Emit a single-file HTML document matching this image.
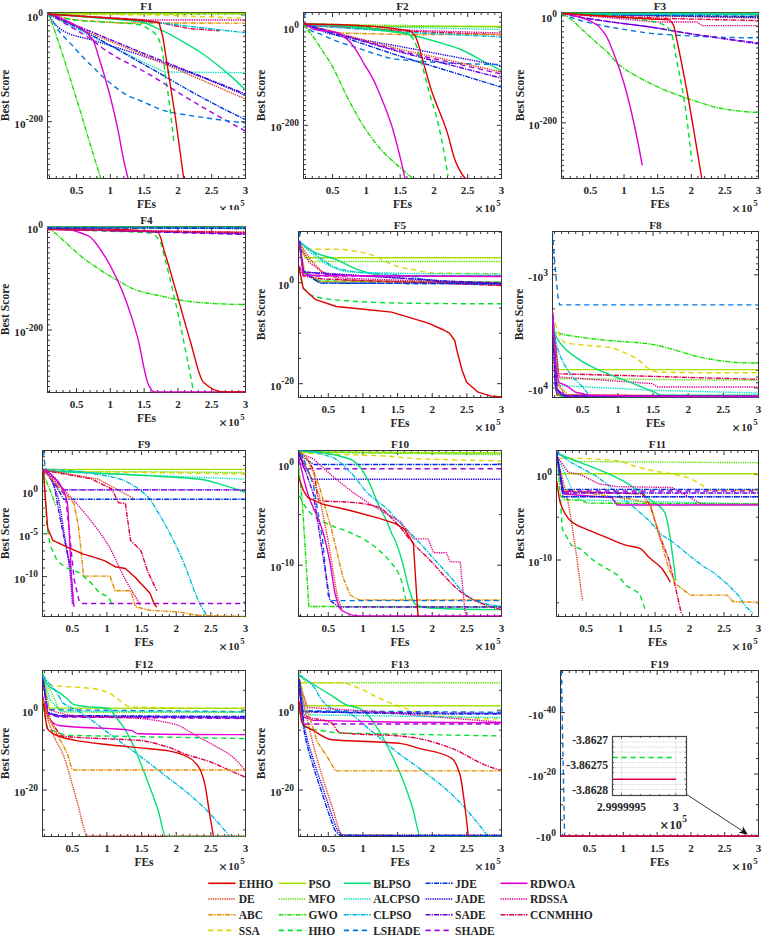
<!DOCTYPE html>
<html><head><meta charset="utf-8"><style>
html,body{margin:0;padding:0;background:#fff;overflow:hidden;width:762px;height:936px;}
svg{display:block;}
text{font-family:"Liberation Serif", serif;font-weight:bold;fill:#262626;}
</style></head><body>
<svg width="762" height="936" viewBox="0 0 762 936">
<rect width="762" height="936" fill="#fff"/>
<clipPath id="c1"><rect x="47.5" y="12.5" width="198.0" height="166.0"/></clipPath>
<path d="M49.53,178.5 v-2.5 M49.53,12.5 v2.5 M56.28,178.5 v-2.5 M56.28,12.5 v2.5 M63.04,178.5 v-2.5 M63.04,12.5 v2.5 M69.80,178.5 v-2.5 M69.80,12.5 v2.5 M76.56,178.5 v-4.5 M76.56,12.5 v4.5 M83.32,178.5 v-2.5 M83.32,12.5 v2.5 M90.07,178.5 v-2.5 M90.07,12.5 v2.5 M96.83,178.5 v-2.5 M96.83,12.5 v2.5 M103.59,178.5 v-2.5 M103.59,12.5 v2.5 M110.35,178.5 v-4.5 M110.35,12.5 v4.5 M117.10,178.5 v-2.5 M117.10,12.5 v2.5 M123.86,178.5 v-2.5 M123.86,12.5 v2.5 M130.62,178.5 v-2.5 M130.62,12.5 v2.5 M137.38,178.5 v-2.5 M137.38,12.5 v2.5 M144.13,178.5 v-4.5 M144.13,12.5 v4.5 M150.89,178.5 v-2.5 M150.89,12.5 v2.5 M157.65,178.5 v-2.5 M157.65,12.5 v2.5 M164.41,178.5 v-2.5 M164.41,12.5 v2.5 M171.17,178.5 v-2.5 M171.17,12.5 v2.5 M177.92,178.5 v-4.5 M177.92,12.5 v4.5 M184.68,178.5 v-2.5 M184.68,12.5 v2.5 M191.44,178.5 v-2.5 M191.44,12.5 v2.5 M198.20,178.5 v-2.5 M198.20,12.5 v2.5 M204.95,178.5 v-2.5 M204.95,12.5 v2.5 M211.71,178.5 v-4.5 M211.71,12.5 v4.5 M218.47,178.5 v-2.5 M218.47,12.5 v2.5 M225.23,178.5 v-2.5 M225.23,12.5 v2.5 M231.98,178.5 v-2.5 M231.98,12.5 v2.5 M238.74,178.5 v-2.5 M238.74,12.5 v2.5 M47.5,14.90 h4.5 M245.5,14.90 h-4.5 M47.5,20.24 h2.5 M245.5,20.24 h-2.5 M47.5,25.58 h2.5 M245.5,25.58 h-2.5 M47.5,30.92 h2.5 M245.5,30.92 h-2.5 M47.5,36.26 h2.5 M245.5,36.26 h-2.5 M47.5,41.60 h2.5 M245.5,41.60 h-2.5 M47.5,46.94 h2.5 M245.5,46.94 h-2.5 M47.5,52.28 h2.5 M245.5,52.28 h-2.5 M47.5,57.62 h2.5 M245.5,57.62 h-2.5 M47.5,62.96 h2.5 M245.5,62.96 h-2.5 M47.5,68.30 h2.5 M245.5,68.30 h-2.5 M47.5,73.64 h2.5 M245.5,73.64 h-2.5 M47.5,78.98 h2.5 M245.5,78.98 h-2.5 M47.5,84.32 h2.5 M245.5,84.32 h-2.5 M47.5,89.66 h2.5 M245.5,89.66 h-2.5 M47.5,95.00 h2.5 M245.5,95.00 h-2.5 M47.5,100.34 h2.5 M245.5,100.34 h-2.5 M47.5,105.68 h2.5 M245.5,105.68 h-2.5 M47.5,111.02 h2.5 M245.5,111.02 h-2.5 M47.5,116.36 h2.5 M245.5,116.36 h-2.5 M47.5,121.70 h4.5 M245.5,121.70 h-4.5 M47.5,127.04 h2.5 M245.5,127.04 h-2.5 M47.5,132.38 h2.5 M245.5,132.38 h-2.5 M47.5,137.72 h2.5 M245.5,137.72 h-2.5 M47.5,143.06 h2.5 M245.5,143.06 h-2.5 M47.5,148.40 h2.5 M245.5,148.40 h-2.5 M47.5,153.74 h2.5 M245.5,153.74 h-2.5 M47.5,159.08 h2.5 M245.5,159.08 h-2.5 M47.5,164.42 h2.5 M245.5,164.42 h-2.5 M47.5,169.76 h2.5 M245.5,169.76 h-2.5 M47.5,175.10 h2.5 M245.5,175.10 h-2.5" stroke="#333333" stroke-width="1" fill="none"/>
<rect x="47.5" y="12.5" width="198.0" height="166.0" fill="none" stroke="#333333" stroke-width="1"/>
<g clip-path="url(#c1)" fill="none" stroke-width="1.4" stroke-linejoin="round">
<path d="M47.00,13.20 L245.50,13.20" stroke="#a5e000"/>
<path d="M47.00,13.60 L245.50,14.20" stroke="#5ee000" stroke-dasharray="1.3 1.0"/>
<path d="M47.00,14.00 L160.00,15.00 L245.50,18.30" stroke="#e0d500" stroke-dasharray="5.2 3.8"/>
<path d="M47.00,14.00 L150.00,20.00 L245.50,20.00" stroke="#e0008e" stroke-dasharray="1.3 1.0"/>
<path d="M47.00,14.00 L75.00,20.00 L120.00,23.00 L245.50,23.10" stroke="#e08e00" stroke-dasharray="5 1.1 1.3 1.1"/>
<path d="M47.00,14.00 L140.00,19.80 L159.00,22.50 L190.00,28.70 L219.40,30.70" stroke="#e00047" stroke-dasharray="5 1.1 1.3 1.1"/>
<path d="M47.00,13.50 L161.50,23.10 L244.90,32.70" stroke="#00bde0" stroke-dasharray="5 1.1 1.3 1.1"/>
<path d="M47.50,14.00 C65.00,15.15 82.50,16.51 100.00,18.00 C113.33,19.13 126.67,19.62 140.00,21.80 C146.57,22.87 153.13,26.48 159.70,29.40 C169.80,33.90 179.90,39.90 190.00,45.80 C193.33,47.75 196.67,49.75 200.00,52.00 C209.23,58.24 218.47,65.54 227.70,73.40 C233.63,78.45 239.57,84.10 245.50,90.00" stroke="#00e076"/>
<path d="M47.00,14.00 C56.33,16.39 65.67,18.90 75.00,20.00 C96.67,22.54 118.33,21.36 140.00,24.80 C142.83,25.25 145.67,27.30 148.50,29.00 C151.13,30.58 153.77,31.93 156.40,35.00 C157.50,36.28 158.60,38.71 159.70,41.50 C160.63,43.87 161.57,46.70 162.50,51.30 C163.57,56.56 164.63,71.30 165.70,78.90 C166.37,83.65 167.03,86.67 167.70,91.30 C169.80,105.88 171.90,122.98 174.00,144.00" stroke="#00e02f" stroke-dasharray="5.2 3.8"/>
<path d="M47.00,14.00 L145.00,63.00 L164.30,72.00 L245.50,72.70" stroke="#00e0bd" stroke-dasharray="1.3 1.0"/>
<path d="M47.00,13.40 L145.00,54.00 L245.50,94.00" stroke="#5e00e0" stroke-dasharray="5 1.1 1.3 1.1"/>
<path d="M47.80,13.40 C51.00,18.82 54.20,23.75 57.40,26.50 C61.53,30.05 65.67,32.52 69.80,34.10 C76.70,36.75 83.60,37.57 90.50,39.60 C142.17,54.82 193.83,72.54 245.50,95.50" stroke="#1800e0" stroke-dasharray="1.3 1.0"/>
<path d="M47.00,13.40 L90.00,33.00 L145.00,55.50 L245.50,99.00" stroke="#e03a1e" stroke-dasharray="1.3 1.0"/>
<path d="M47.80,13.40 C56.07,17.18 64.33,21.03 72.60,25.20 C98.40,38.22 124.20,53.39 150.00,67.90 C165.80,76.78 181.60,86.45 197.40,95.00 C213.43,103.68 229.47,111.94 245.50,119.70" stroke="#002fe0" stroke-dasharray="5 1.1 1.3 1.1"/>
<path d="M47.80,13.40 C53.77,16.80 59.73,20.26 65.70,23.80 C73.97,28.71 82.23,33.30 90.50,38.90 C96.00,42.63 101.50,47.74 107.00,51.30 C121.33,60.59 135.67,66.40 150.00,74.80 C160.73,81.09 171.47,88.56 182.20,95.00 C203.30,107.66 224.40,119.82 245.50,131.00" stroke="#a500e0" stroke-dasharray="5.2 3.8"/>
<path d="M47.50,14.00 C48.00,14.46 48.50,14.92 49.00,15.50 C52.27,19.27 55.53,26.47 58.80,30.70 C63.40,36.66 68.00,40.73 72.60,45.80 C75.07,48.52 77.53,51.38 80.00,54.00 C85.33,59.66 90.67,65.03 96.00,70.10 C101.33,75.17 106.67,80.31 112.00,84.50 C117.37,88.71 122.73,93.00 128.10,95.70 C132.07,97.70 136.03,98.90 140.00,100.50 C149.10,104.17 158.20,109.32 167.30,111.50 C177.17,113.86 187.03,115.01 196.90,116.50 C213.10,118.94 229.30,121.19 245.50,123.00" stroke="#0076e0" stroke-dasharray="5.2 3.8"/>
<path d="M47.50,13.00 C48.50,15.05 49.50,17.17 50.50,19.60 C54.17,28.52 57.83,40.26 61.50,51.30 C66.10,65.16 70.70,80.31 75.30,95.00 C76.87,100.00 78.43,104.98 80.00,110.10 C83.20,120.56 86.40,131.66 89.60,142.20 C93.33,154.49 97.07,166.61 100.80,178.50" stroke="#18e000" stroke-dasharray="5 1.1 1.3 1.1"/>
<path d="M47.80,13.40 C53.77,14.92 59.73,17.37 65.70,20.30 C74.73,24.73 83.77,27.69 92.80,39.60 C94.93,42.41 97.07,52.13 99.20,58.80 C101.33,65.47 103.47,72.25 105.60,79.70 C107.73,87.15 109.87,95.02 112.00,103.70 C114.17,112.51 116.33,122.04 118.50,132.60 C120.10,140.39 121.70,150.65 123.30,158.20 C124.90,165.75 126.50,172.62 128.10,178.50" stroke="#e000d5"/>
<path d="M47.00,14.00 L140.00,20.20 L159.00,22.50 L163.00,37.60 L171.90,95.00 L175.50,118.00 L183.70,178.50" stroke="#e00000"/>
</g>
<text x="76.56" y="194.30" font-size="11" text-anchor="middle" >0.5</text>
<text x="110.35" y="194.30" font-size="11" text-anchor="middle" >1</text>
<text x="144.13" y="194.30" font-size="11" text-anchor="middle" >1.5</text>
<text x="177.92" y="194.30" font-size="11" text-anchor="middle" >2</text>
<text x="211.71" y="194.30" font-size="11" text-anchor="middle" >2.5</text>
<text x="245.50" y="194.30" font-size="11" text-anchor="middle" >3</text>
<text x="146.50" y="208.30" font-size="11.5" text-anchor="middle" >FEs</text>
<clipPath id="c2"><rect x="205.5" y="178.5" width="60" height="31.599999999999994"/></clipPath>
<g clip-path="url(#c2)"><text x="223.10" y="213.70" font-size="15" font-weight="normal" text-anchor="middle">&#215;</text><text x="228.30" y="211.90" font-size="11">10</text><text x="240.30" y="206.30" font-size="8.8">5</text></g>
<text x="146.50" y="9.70" font-size="11.2" text-anchor="middle" >F1</text>
<text x="5.2" y="95.5" font-size="11.6" text-anchor="middle" transform="rotate(-90 5.2 95.5)" dy="4">Best Score</text>
<text x="43.00" y="20.90" font-size="11.3" text-anchor="end">10<tspan font-size="9.5" dy="-5.3">0</tspan></text>
<text x="43.00" y="127.70" font-size="11.3" text-anchor="end">10<tspan font-size="9.5" dy="-5.3">-200</tspan></text>
<clipPath id="c3"><rect x="303.5" y="12.5" width="198.0" height="166.0"/></clipPath>
<path d="M305.53,178.5 v-2.5 M305.53,12.5 v2.5 M312.28,178.5 v-2.5 M312.28,12.5 v2.5 M319.04,178.5 v-2.5 M319.04,12.5 v2.5 M325.80,178.5 v-2.5 M325.80,12.5 v2.5 M332.56,178.5 v-4.5 M332.56,12.5 v4.5 M339.32,178.5 v-2.5 M339.32,12.5 v2.5 M346.07,178.5 v-2.5 M346.07,12.5 v2.5 M352.83,178.5 v-2.5 M352.83,12.5 v2.5 M359.59,178.5 v-2.5 M359.59,12.5 v2.5 M366.35,178.5 v-4.5 M366.35,12.5 v4.5 M373.10,178.5 v-2.5 M373.10,12.5 v2.5 M379.86,178.5 v-2.5 M379.86,12.5 v2.5 M386.62,178.5 v-2.5 M386.62,12.5 v2.5 M393.38,178.5 v-2.5 M393.38,12.5 v2.5 M400.13,178.5 v-4.5 M400.13,12.5 v4.5 M406.89,178.5 v-2.5 M406.89,12.5 v2.5 M413.65,178.5 v-2.5 M413.65,12.5 v2.5 M420.41,178.5 v-2.5 M420.41,12.5 v2.5 M427.17,178.5 v-2.5 M427.17,12.5 v2.5 M433.92,178.5 v-4.5 M433.92,12.5 v4.5 M440.68,178.5 v-2.5 M440.68,12.5 v2.5 M447.44,178.5 v-2.5 M447.44,12.5 v2.5 M454.20,178.5 v-2.5 M454.20,12.5 v2.5 M460.95,178.5 v-2.5 M460.95,12.5 v2.5 M467.71,178.5 v-4.5 M467.71,12.5 v4.5 M474.47,178.5 v-2.5 M474.47,12.5 v2.5 M481.23,178.5 v-2.5 M481.23,12.5 v2.5 M487.98,178.5 v-2.5 M487.98,12.5 v2.5 M494.74,178.5 v-2.5 M494.74,12.5 v2.5 M303.5,17.17 h2.5 M501.5,17.17 h-2.5 M303.5,22.09 h2.5 M501.5,22.09 h-2.5 M303.5,27.00 h4.5 M501.5,27.00 h-4.5 M303.5,31.91 h2.5 M501.5,31.91 h-2.5 M303.5,36.83 h2.5 M501.5,36.83 h-2.5 M303.5,41.75 h2.5 M501.5,41.75 h-2.5 M303.5,46.66 h2.5 M501.5,46.66 h-2.5 M303.5,51.58 h2.5 M501.5,51.58 h-2.5 M303.5,56.49 h2.5 M501.5,56.49 h-2.5 M303.5,61.41 h2.5 M501.5,61.41 h-2.5 M303.5,66.32 h2.5 M501.5,66.32 h-2.5 M303.5,71.23 h2.5 M501.5,71.23 h-2.5 M303.5,76.15 h2.5 M501.5,76.15 h-2.5 M303.5,81.06 h2.5 M501.5,81.06 h-2.5 M303.5,85.98 h2.5 M501.5,85.98 h-2.5 M303.5,90.90 h2.5 M501.5,90.90 h-2.5 M303.5,95.81 h2.5 M501.5,95.81 h-2.5 M303.5,100.72 h2.5 M501.5,100.72 h-2.5 M303.5,105.64 h2.5 M501.5,105.64 h-2.5 M303.5,110.56 h2.5 M501.5,110.56 h-2.5 M303.5,115.47 h2.5 M501.5,115.47 h-2.5 M303.5,120.39 h2.5 M501.5,120.39 h-2.5 M303.5,125.30 h4.5 M501.5,125.30 h-4.5 M303.5,130.22 h2.5 M501.5,130.22 h-2.5 M303.5,135.13 h2.5 M501.5,135.13 h-2.5 M303.5,140.05 h2.5 M501.5,140.05 h-2.5 M303.5,144.96 h2.5 M501.5,144.96 h-2.5 M303.5,149.88 h2.5 M501.5,149.88 h-2.5 M303.5,154.79 h2.5 M501.5,154.79 h-2.5 M303.5,159.71 h2.5 M501.5,159.71 h-2.5 M303.5,164.62 h2.5 M501.5,164.62 h-2.5 M303.5,169.53 h2.5 M501.5,169.53 h-2.5 M303.5,174.45 h2.5 M501.5,174.45 h-2.5" stroke="#333333" stroke-width="1" fill="none"/>
<rect x="303.5" y="12.5" width="198.0" height="166.0" fill="none" stroke="#333333" stroke-width="1"/>
<g clip-path="url(#c3)" fill="none" stroke-width="1.4" stroke-linejoin="round">
<path d="M303.50,24.00 L320.00,26.30 L501.30,26.50" stroke="#a5e000"/>
<path d="M303.50,24.00 L501.30,27.00" stroke="#5ee000" stroke-dasharray="1.3 1.0"/>
<path d="M303.50,25.00 L501.30,29.60" stroke="#00e0bd" stroke-dasharray="1.3 1.0"/>
<path d="M303.50,25.00 L400.00,30.00 L501.30,33.00" stroke="#e0008e" stroke-dasharray="1.3 1.0"/>
<path d="M303.50,25.00 L400.00,31.00 L501.30,34.80" stroke="#e00047" stroke-dasharray="5 1.1 1.3 1.1"/>
<path d="M303.50,25.00 L340.00,33.00 L400.00,34.50 L501.30,34.50" stroke="#e08e00" stroke-dasharray="5 1.1 1.3 1.1"/>
<path d="M303.50,25.00 L400.00,32.00 L501.30,36.90" stroke="#00bde0" stroke-dasharray="5 1.1 1.3 1.1"/>
<path d="M303.50,24.00 C335.67,24.00 367.83,28.20 400.00,32.70 C405.50,33.47 411.00,34.89 416.50,36.20 C424.77,38.17 433.03,40.59 441.30,43.10 C448.20,45.20 455.10,47.17 462.00,50.00 C468.90,52.83 475.80,57.39 482.70,61.00 C488.90,64.25 495.10,67.44 501.30,70.60" stroke="#00e076"/>
<path d="M303.50,24.00 L330.00,34.00 L400.00,46.50 L501.30,65.80" stroke="#1800e0" stroke-dasharray="1.3 1.0"/>
<path d="M304.00,13.00 C304.33,16.86 304.67,23.46 305.00,24.00 C310.67,33.25 316.33,32.05 322.00,34.80 C333.03,40.15 344.07,43.66 355.10,47.20 C370.07,52.00 385.03,58.27 400.00,59.60 C433.77,62.60 467.53,64.40 501.30,64.40" stroke="#0076e0" stroke-dasharray="5.2 3.8"/>
<path d="M303.50,24.00 L400.00,49.30 L501.30,72.00" stroke="#e03a1e" stroke-dasharray="1.3 1.0"/>
<path d="M303.50,24.00 L400.00,51.00 L501.30,74.00" stroke="#a500e0" stroke-dasharray="5.2 3.8"/>
<path d="M303.50,24.00 L400.00,52.00 L501.30,78.20" stroke="#5e00e0" stroke-dasharray="5 1.1 1.3 1.1"/>
<path d="M303.50,24.00 L400.00,56.20 L501.30,87.20" stroke="#002fe0" stroke-dasharray="5 1.1 1.3 1.1"/>
<path d="M303.50,24.00 C335.67,24.00 367.83,26.52 400.00,32.00 C404.13,32.70 408.27,34.27 412.40,37.60 C415.60,40.18 418.80,54.59 422.00,65.10 C424.20,72.33 426.40,81.95 428.60,90.00 C431.90,102.07 435.20,110.91 438.50,125.00 C441.67,138.52 444.83,156.16 448.00,176.00" stroke="#00e02f" stroke-dasharray="5.2 3.8"/>
<path d="M303.50,22.00 C304.17,23.62 304.83,25.32 305.50,26.50 C308.27,31.40 311.03,33.67 313.80,37.60 C316.53,41.48 319.27,45.81 322.00,50.00 C325.23,54.96 328.47,59.42 331.70,65.10 C334.47,69.96 337.23,75.96 340.00,81.70 C342.07,85.99 344.13,90.92 346.20,95.00 C352.33,107.11 358.47,118.38 364.60,127.70 C369.97,135.86 375.33,143.23 380.70,149.20 C387.87,157.17 395.03,163.11 402.20,169.40 C405.80,172.56 409.40,175.53 413.00,178.40" stroke="#18e000" stroke-dasharray="5 1.1 1.3 1.1"/>
<path d="M303.90,22.40 C307.20,25.24 310.50,28.43 313.80,29.30 C321.60,31.36 329.40,30.67 337.20,32.70 C340.87,33.66 344.53,37.01 348.20,40.30 C350.50,42.36 352.80,45.39 355.10,48.60 C358.33,53.11 361.57,59.63 364.80,65.10 C367.53,69.72 370.27,73.61 373.00,78.90 C374.67,82.13 376.33,86.06 378.00,90.00 C382.50,100.64 387.00,111.07 391.50,125.00 C394.17,133.25 396.83,143.91 399.50,154.60 C401.33,161.95 403.17,170.00 405.00,178.40" stroke="#e000d5"/>
<path d="M303.50,24.00 C338.87,24.00 374.23,25.00 409.60,30.70 C411.47,31.00 413.33,33.49 415.20,36.20 C418.17,40.50 421.13,55.15 424.10,65.10 C426.50,73.15 428.90,82.70 431.30,90.00 C436.40,105.52 441.50,115.03 446.60,130.40 C449.73,139.84 452.87,155.58 456.00,162.60 C459.17,169.70 462.33,175.94 465.50,178.40" stroke="#e00000"/>
</g>
<text x="332.56" y="194.30" font-size="11" text-anchor="middle" >0.5</text>
<text x="366.35" y="194.30" font-size="11" text-anchor="middle" >1</text>
<text x="400.13" y="194.30" font-size="11" text-anchor="middle" >1.5</text>
<text x="433.92" y="194.30" font-size="11" text-anchor="middle" >2</text>
<text x="467.71" y="194.30" font-size="11" text-anchor="middle" >2.5</text>
<text x="501.50" y="194.30" font-size="11" text-anchor="middle" >3</text>
<text x="402.50" y="208.30" font-size="11.5" text-anchor="middle" >FEs</text>
<g><text x="479.10" y="213.70" font-size="15" font-weight="normal" text-anchor="middle">&#215;</text><text x="484.30" y="211.90" font-size="11">10</text><text x="496.30" y="206.30" font-size="8.8">5</text></g>
<text x="402.50" y="9.70" font-size="11.2" text-anchor="middle" >F2</text>
<text x="260.8" y="95.5" font-size="11.6" text-anchor="middle" transform="rotate(-90 260.8 95.5)" dy="4">Best Score</text>
<text x="299.00" y="33.00" font-size="11.3" text-anchor="end">10<tspan font-size="9.5" dy="-5.3">0</tspan></text>
<text x="299.00" y="131.30" font-size="11.3" text-anchor="end">10<tspan font-size="9.5" dy="-5.3">-200</tspan></text>
<clipPath id="c4"><rect x="561.5" y="12.5" width="197.0" height="166.0"/></clipPath>
<path d="M563.52,178.5 v-2.5 M563.52,12.5 v2.5 M570.24,178.5 v-2.5 M570.24,12.5 v2.5 M576.96,178.5 v-2.5 M576.96,12.5 v2.5 M583.69,178.5 v-2.5 M583.69,12.5 v2.5 M590.41,178.5 v-4.5 M590.41,12.5 v4.5 M597.13,178.5 v-2.5 M597.13,12.5 v2.5 M603.86,178.5 v-2.5 M603.86,12.5 v2.5 M610.58,178.5 v-2.5 M610.58,12.5 v2.5 M617.31,178.5 v-2.5 M617.31,12.5 v2.5 M624.03,178.5 v-4.5 M624.03,12.5 v4.5 M630.75,178.5 v-2.5 M630.75,12.5 v2.5 M637.48,178.5 v-2.5 M637.48,12.5 v2.5 M644.20,178.5 v-2.5 M644.20,12.5 v2.5 M650.92,178.5 v-2.5 M650.92,12.5 v2.5 M657.65,178.5 v-4.5 M657.65,12.5 v4.5 M664.37,178.5 v-2.5 M664.37,12.5 v2.5 M671.09,178.5 v-2.5 M671.09,12.5 v2.5 M677.82,178.5 v-2.5 M677.82,12.5 v2.5 M684.54,178.5 v-2.5 M684.54,12.5 v2.5 M691.26,178.5 v-4.5 M691.26,12.5 v4.5 M697.99,178.5 v-2.5 M697.99,12.5 v2.5 M704.71,178.5 v-2.5 M704.71,12.5 v2.5 M711.44,178.5 v-2.5 M711.44,12.5 v2.5 M718.16,178.5 v-2.5 M718.16,12.5 v2.5 M724.88,178.5 v-4.5 M724.88,12.5 v4.5 M731.61,178.5 v-2.5 M731.61,12.5 v2.5 M738.33,178.5 v-2.5 M738.33,12.5 v2.5 M745.05,178.5 v-2.5 M745.05,12.5 v2.5 M751.78,178.5 v-2.5 M751.78,12.5 v2.5 M561.5,15.80 h4.5 M758.5,15.80 h-4.5 M561.5,21.15 h2.5 M758.5,21.15 h-2.5 M561.5,26.50 h2.5 M758.5,26.50 h-2.5 M561.5,31.85 h2.5 M758.5,31.85 h-2.5 M561.5,37.20 h2.5 M758.5,37.20 h-2.5 M561.5,42.55 h2.5 M758.5,42.55 h-2.5 M561.5,47.90 h2.5 M758.5,47.90 h-2.5 M561.5,53.25 h2.5 M758.5,53.25 h-2.5 M561.5,58.60 h2.5 M758.5,58.60 h-2.5 M561.5,63.95 h2.5 M758.5,63.95 h-2.5 M561.5,69.30 h2.5 M758.5,69.30 h-2.5 M561.5,74.65 h2.5 M758.5,74.65 h-2.5 M561.5,80.00 h2.5 M758.5,80.00 h-2.5 M561.5,85.35 h2.5 M758.5,85.35 h-2.5 M561.5,90.70 h2.5 M758.5,90.70 h-2.5 M561.5,96.05 h2.5 M758.5,96.05 h-2.5 M561.5,101.40 h2.5 M758.5,101.40 h-2.5 M561.5,106.75 h2.5 M758.5,106.75 h-2.5 M561.5,112.10 h2.5 M758.5,112.10 h-2.5 M561.5,117.45 h2.5 M758.5,117.45 h-2.5 M561.5,122.80 h4.5 M758.5,122.80 h-4.5 M561.5,128.15 h2.5 M758.5,128.15 h-2.5 M561.5,133.50 h2.5 M758.5,133.50 h-2.5 M561.5,138.85 h2.5 M758.5,138.85 h-2.5 M561.5,144.20 h2.5 M758.5,144.20 h-2.5 M561.5,149.55 h2.5 M758.5,149.55 h-2.5 M561.5,154.90 h2.5 M758.5,154.90 h-2.5 M561.5,160.25 h2.5 M758.5,160.25 h-2.5 M561.5,165.60 h2.5 M758.5,165.60 h-2.5 M561.5,170.95 h2.5 M758.5,170.95 h-2.5 M561.5,176.30 h2.5 M758.5,176.30 h-2.5" stroke="#333333" stroke-width="1" fill="none"/>
<rect x="561.5" y="12.5" width="197.0" height="166.0" fill="none" stroke="#333333" stroke-width="1"/>
<g clip-path="url(#c4)" fill="none" stroke-width="1.4" stroke-linejoin="round">
<path d="M561.50,14.00 L758.50,18.00" stroke="#e03a1e" stroke-dasharray="1.3 1.0"/>
<path d="M561.50,14.00 L758.50,17.00" stroke="#e08e00" stroke-dasharray="5 1.1 1.3 1.1"/>
<path d="M561.50,14.00 L758.50,16.00" stroke="#e0d500" stroke-dasharray="5.2 3.8"/>
<path d="M561.30,13.20 L655.00,22.00 L697.00,22.00 L702.00,25.60 L758.50,25.60" stroke="#e0008e" stroke-dasharray="1.3 1.0"/>
<path d="M561.50,14.00 L669.00,18.50 L758.50,20.60" stroke="#e00047" stroke-dasharray="5 1.1 1.3 1.1"/>
<path d="M561.50,14.00 L758.50,17.50" stroke="#1800e0" stroke-dasharray="1.3 1.0"/>
<path d="M561.50,14.00 L758.50,16.50" stroke="#002fe0" stroke-dasharray="5 1.1 1.3 1.1"/>
<path d="M561.50,13.20 L758.50,13.20" stroke="#a5e000"/>
<path d="M561.50,13.50 L758.50,13.80" stroke="#5ee000" stroke-dasharray="1.3 1.0"/>
<path d="M561.50,13.50 L758.50,14.20" stroke="#00e076"/>
<path d="M561.50,13.50 L758.50,13.60" stroke="#00e0bd" stroke-dasharray="1.3 1.0"/>
<path d="M561.50,14.00 L758.50,14.80" stroke="#00bde0" stroke-dasharray="5 1.1 1.3 1.1"/>
<path d="M561.30,13.20 C566.10,15.40 570.90,17.49 575.70,19.00 C583.97,21.60 592.23,23.48 600.50,25.20 C608.30,26.83 616.10,28.20 623.90,29.40 C635.93,31.26 647.97,33.44 660.00,34.20 C692.83,36.26 725.67,37.80 758.50,37.80" stroke="#0076e0" stroke-dasharray="5.2 3.8"/>
<path d="M561.30,13.20 C568.40,14.83 575.50,16.35 582.60,17.60 C591.77,19.22 600.93,20.50 610.10,21.80 C625.07,23.93 640.03,25.43 655.00,27.70 C664.37,29.12 673.73,31.09 683.10,32.60 C692.47,34.11 701.83,35.51 711.20,36.80 C726.97,38.98 742.73,41.02 758.50,42.80" stroke="#a500e0" stroke-dasharray="5.2 3.8"/>
<path d="M561.30,13.20 C568.40,14.83 575.50,16.35 582.60,17.60 C591.77,19.22 600.93,20.50 610.10,21.80 C625.07,23.93 640.03,25.43 655.00,27.70 C664.37,29.12 673.73,31.09 683.10,32.60 C692.47,34.11 701.83,35.41 711.20,36.80 C726.97,39.15 742.73,41.48 758.50,43.80" stroke="#5e00e0" stroke-dasharray="5 1.1 1.3 1.1"/>
<path d="M561.30,13.20 C592.53,13.20 623.77,16.39 655.00,22.00 C658.73,22.67 662.47,23.87 666.20,26.30 C668.10,27.54 670.00,30.18 671.90,34.70 C673.30,38.03 674.70,49.74 676.10,57.20 C678.73,71.23 681.37,82.25 684.00,99.00 C686.63,115.75 689.27,137.47 691.90,162.00" stroke="#00e02f" stroke-dasharray="5.2 3.8"/>
<path d="M561.50,13.20 C563.93,14.42 566.37,15.88 568.80,17.60 C573.40,20.85 578.00,25.85 582.60,30.00 C587.17,34.12 591.73,38.27 596.30,42.40 C600.90,46.57 605.50,50.10 610.10,54.90 C612.40,57.30 614.70,61.01 617.00,63.10 C621.60,67.28 626.20,70.01 630.80,72.80 C640.53,78.71 650.27,83.63 660.00,87.90 C668.43,91.60 676.87,94.79 685.30,97.60 C698.53,102.01 711.77,107.18 725.00,109.10 C736.17,110.72 747.33,112.28 758.50,112.40" stroke="#18e000" stroke-dasharray="5 1.1 1.3 1.1"/>
<path d="M561.50,13.00 C569.90,13.81 578.30,16.64 586.70,19.70 C589.90,20.86 593.10,22.27 596.30,24.50 C599.53,26.75 602.77,30.60 606.00,35.60 C608.77,39.88 611.53,47.89 614.30,54.90 C616.13,59.54 617.97,64.50 619.80,70.00 C622.10,76.90 624.40,84.27 626.70,93.00 C631.90,112.75 637.10,136.51 642.30,165.30" stroke="#e000d5"/>
<path d="M561.30,13.20 C592.53,15.58 623.77,17.50 655.00,19.20 C659.67,19.45 664.33,19.37 669.00,19.90 C670.43,20.06 671.87,22.27 673.30,24.90 C674.70,27.47 676.10,36.61 677.50,43.10 C680.77,58.23 684.03,75.23 687.30,93.00 C689.93,107.33 692.57,123.35 695.20,138.90 C697.40,151.89 699.60,165.11 701.80,178.50" stroke="#e00000"/>
</g>
<text x="590.41" y="194.30" font-size="11" text-anchor="middle" >0.5</text>
<text x="624.03" y="194.30" font-size="11" text-anchor="middle" >1</text>
<text x="657.65" y="194.30" font-size="11" text-anchor="middle" >1.5</text>
<text x="691.26" y="194.30" font-size="11" text-anchor="middle" >2</text>
<text x="724.88" y="194.30" font-size="11" text-anchor="middle" >2.5</text>
<text x="758.50" y="194.30" font-size="11" text-anchor="middle" >3</text>
<text x="660.00" y="208.30" font-size="11.5" text-anchor="middle" >FEs</text>
<g><text x="736.10" y="213.70" font-size="15" font-weight="normal" text-anchor="middle">&#215;</text><text x="741.30" y="211.90" font-size="11">10</text><text x="753.30" y="206.30" font-size="8.8">5</text></g>
<text x="660.00" y="9.70" font-size="11.2" text-anchor="middle" >F3</text>
<text x="519.5" y="95.5" font-size="11.6" text-anchor="middle" transform="rotate(-90 519.5 95.5)" dy="4">Best Score</text>
<text x="557.00" y="21.80" font-size="11.3" text-anchor="end">10<tspan font-size="9.5" dy="-5.3">0</tspan></text>
<text x="557.00" y="128.80" font-size="11.3" text-anchor="end">10<tspan font-size="9.5" dy="-5.3">-200</tspan></text>
<clipPath id="c5"><rect x="47.5" y="226.5" width="198.0" height="166.0"/></clipPath>
<path d="M49.53,392.5 v-2.5 M49.53,226.5 v2.5 M56.28,392.5 v-2.5 M56.28,226.5 v2.5 M63.04,392.5 v-2.5 M63.04,226.5 v2.5 M69.80,392.5 v-2.5 M69.80,226.5 v2.5 M76.56,392.5 v-4.5 M76.56,226.5 v4.5 M83.32,392.5 v-2.5 M83.32,226.5 v2.5 M90.07,392.5 v-2.5 M90.07,226.5 v2.5 M96.83,392.5 v-2.5 M96.83,226.5 v2.5 M103.59,392.5 v-2.5 M103.59,226.5 v2.5 M110.35,392.5 v-4.5 M110.35,226.5 v4.5 M117.10,392.5 v-2.5 M117.10,226.5 v2.5 M123.86,392.5 v-2.5 M123.86,226.5 v2.5 M130.62,392.5 v-2.5 M130.62,226.5 v2.5 M137.38,392.5 v-2.5 M137.38,226.5 v2.5 M144.13,392.5 v-4.5 M144.13,226.5 v4.5 M150.89,392.5 v-2.5 M150.89,226.5 v2.5 M157.65,392.5 v-2.5 M157.65,226.5 v2.5 M164.41,392.5 v-2.5 M164.41,226.5 v2.5 M171.17,392.5 v-2.5 M171.17,226.5 v2.5 M177.92,392.5 v-4.5 M177.92,226.5 v4.5 M184.68,392.5 v-2.5 M184.68,226.5 v2.5 M191.44,392.5 v-2.5 M191.44,226.5 v2.5 M198.20,392.5 v-2.5 M198.20,226.5 v2.5 M204.95,392.5 v-2.5 M204.95,226.5 v2.5 M211.71,392.5 v-4.5 M211.71,226.5 v4.5 M218.47,392.5 v-2.5 M218.47,226.5 v2.5 M225.23,392.5 v-2.5 M225.23,226.5 v2.5 M231.98,392.5 v-2.5 M231.98,226.5 v2.5 M238.74,392.5 v-2.5 M238.74,226.5 v2.5 M47.5,227.20 h4.5 M245.5,227.20 h-4.5 M47.5,232.34 h2.5 M245.5,232.34 h-2.5 M47.5,237.48 h2.5 M245.5,237.48 h-2.5 M47.5,242.62 h2.5 M245.5,242.62 h-2.5 M47.5,247.76 h2.5 M245.5,247.76 h-2.5 M47.5,252.90 h2.5 M245.5,252.90 h-2.5 M47.5,258.04 h2.5 M245.5,258.04 h-2.5 M47.5,263.18 h2.5 M245.5,263.18 h-2.5 M47.5,268.32 h2.5 M245.5,268.32 h-2.5 M47.5,273.46 h2.5 M245.5,273.46 h-2.5 M47.5,278.60 h2.5 M245.5,278.60 h-2.5 M47.5,283.74 h2.5 M245.5,283.74 h-2.5 M47.5,288.88 h2.5 M245.5,288.88 h-2.5 M47.5,294.02 h2.5 M245.5,294.02 h-2.5 M47.5,299.16 h2.5 M245.5,299.16 h-2.5 M47.5,304.30 h2.5 M245.5,304.30 h-2.5 M47.5,309.44 h2.5 M245.5,309.44 h-2.5 M47.5,314.58 h2.5 M245.5,314.58 h-2.5 M47.5,319.72 h2.5 M245.5,319.72 h-2.5 M47.5,324.86 h2.5 M245.5,324.86 h-2.5 M47.5,330.00 h4.5 M245.5,330.00 h-4.5 M47.5,335.14 h2.5 M245.5,335.14 h-2.5 M47.5,340.28 h2.5 M245.5,340.28 h-2.5 M47.5,345.42 h2.5 M245.5,345.42 h-2.5 M47.5,350.56 h2.5 M245.5,350.56 h-2.5 M47.5,355.70 h2.5 M245.5,355.70 h-2.5 M47.5,360.84 h2.5 M245.5,360.84 h-2.5 M47.5,365.98 h2.5 M245.5,365.98 h-2.5 M47.5,371.12 h2.5 M245.5,371.12 h-2.5 M47.5,376.26 h2.5 M245.5,376.26 h-2.5 M47.5,381.40 h2.5 M245.5,381.40 h-2.5 M47.5,386.54 h2.5 M245.5,386.54 h-2.5 M47.5,391.68 h2.5 M245.5,391.68 h-2.5" stroke="#333333" stroke-width="1" fill="none"/>
<rect x="47.5" y="226.5" width="198.0" height="166.0" fill="none" stroke="#333333" stroke-width="1"/>
<g clip-path="url(#c5)" fill="none" stroke-width="1.4" stroke-linejoin="round">
<path d="M47.80,226.60 C53.03,231.20 58.27,235.84 63.50,240.50 C69.67,246.00 75.83,252.24 82.00,257.10 C88.17,261.96 94.33,266.08 100.50,270.10 C106.03,273.70 111.57,277.14 117.10,280.20 C123.87,283.94 130.63,288.19 137.40,290.40 C146.60,293.41 155.80,294.84 165.00,296.90 C170.13,298.05 175.27,299.47 180.40,300.20 C191.37,301.77 202.33,302.98 213.30,303.50 C224.03,304.01 234.77,304.50 245.50,304.50" stroke="#18e000" stroke-dasharray="5 1.1 1.3 1.1"/>
<path d="M47.60,229.00 C65.07,229.64 82.53,230.30 100.00,231.00 C116.80,231.67 133.60,231.42 150.40,233.10 C153.47,233.41 156.53,236.28 159.60,240.50 C161.40,242.98 163.20,252.34 165.00,259.00 C167.97,269.97 170.93,282.34 173.90,295.30 C178.27,314.38 182.63,335.74 187.00,357.60 C189.20,368.61 191.40,380.25 193.60,392.10" stroke="#00e02f" stroke-dasharray="5.2 3.8"/>
<path d="M47.80,226.60 C61.33,226.60 74.87,230.09 88.40,235.90 C93.67,238.16 98.93,247.45 104.20,255.30 C108.50,261.71 112.80,270.20 117.10,279.30 C120.17,285.79 123.23,293.14 126.30,301.50 C130.00,311.59 133.70,323.07 137.40,336.60 C141.10,350.13 144.80,377.70 148.50,384.70 C150.37,388.23 152.23,392.00 154.10,392.00 C184.57,392.00 215.03,392.00 245.50,392.00" stroke="#e000d5"/>
<path d="M47.60,228.00 C84.33,228.00 121.07,228.33 157.80,232.20 C160.20,232.45 162.60,245.84 165.00,253.40 C169.07,266.21 173.13,281.20 177.20,295.30 C181.57,310.45 185.93,326.76 190.30,341.20 C194.67,355.64 199.03,378.26 203.40,382.20 C209.97,388.13 216.53,392.00 223.10,392.00 C230.57,392.00 238.03,392.00 245.50,392.00" stroke="#e00000"/>
<path d="M47.30,229.00 L245.30,234.50" stroke="#a500e0" stroke-dasharray="5.2 3.8"/>
<path d="M47.30,229.00 L245.30,234.00" stroke="#5e00e0" stroke-dasharray="5 1.1 1.3 1.1"/>
<path d="M47.30,229.00 L245.30,233.50" stroke="#1800e0" stroke-dasharray="1.3 1.0"/>
<path d="M47.30,229.50 L245.30,232.00" stroke="#e03a1e" stroke-dasharray="1.3 1.0"/>
<path d="M47.30,229.50 L150.00,231.00 L245.30,233.00" stroke="#e0008e" stroke-dasharray="1.3 1.0"/>
<path d="M47.30,229.50 L245.30,232.50" stroke="#e00047" stroke-dasharray="5 1.1 1.3 1.1"/>
<path d="M47.30,227.00 L245.30,227.00" stroke="#a5e000"/>
<path d="M47.30,227.00 L245.30,227.20" stroke="#5ee000" stroke-dasharray="1.3 1.0"/>
<path d="M47.30,227.00 L245.30,227.50" stroke="#00e076"/>
<path d="M47.30,227.00 L245.30,227.80" stroke="#00e0bd" stroke-dasharray="1.3 1.0"/>
<path d="M47.30,227.00 L245.30,228.00" stroke="#e0d500" stroke-dasharray="5.2 3.8"/>
<path d="M47.30,227.50 L245.30,228.50" stroke="#e08e00" stroke-dasharray="5 1.1 1.3 1.1"/>
<path d="M47.30,227.50 L245.30,228.50" stroke="#00bde0" stroke-dasharray="5 1.1 1.3 1.1"/>
<path d="M47.30,227.00 L245.30,227.20" stroke="#0076e0" stroke-dasharray="5.2 3.8"/>
<path d="M47.30,228.00 L245.30,228.30" stroke="#002fe0" stroke-dasharray="5 1.1 1.3 1.1"/>
</g>
<text x="76.56" y="408.30" font-size="11" text-anchor="middle" >0.5</text>
<text x="110.35" y="408.30" font-size="11" text-anchor="middle" >1</text>
<text x="144.13" y="408.30" font-size="11" text-anchor="middle" >1.5</text>
<text x="177.92" y="408.30" font-size="11" text-anchor="middle" >2</text>
<text x="211.71" y="408.30" font-size="11" text-anchor="middle" >2.5</text>
<text x="245.50" y="408.30" font-size="11" text-anchor="middle" >3</text>
<text x="146.50" y="422.30" font-size="11.5" text-anchor="middle" >FEs</text>
<g><text x="223.10" y="427.70" font-size="15" font-weight="normal" text-anchor="middle">&#215;</text><text x="228.30" y="425.90" font-size="11">10</text><text x="240.30" y="420.30" font-size="8.8">5</text></g>
<text x="146.50" y="223.70" font-size="11.2" text-anchor="middle" >F4</text>
<text x="5.2" y="309.5" font-size="11.6" text-anchor="middle" transform="rotate(-90 5.2 309.5)" dy="4">Best Score</text>
<text x="43.00" y="233.20" font-size="11.3" text-anchor="end">10<tspan font-size="9.5" dy="-5.3">0</tspan></text>
<text x="43.00" y="336.00" font-size="11.3" text-anchor="end">10<tspan font-size="9.5" dy="-5.3">-200</tspan></text>
<clipPath id="c6"><rect x="298.5" y="231.5" width="203.0" height="166.0"/></clipPath>
<path d="M300.58,397.5 v-2.5 M300.58,231.5 v2.5 M307.51,397.5 v-2.5 M307.51,231.5 v2.5 M314.44,397.5 v-2.5 M314.44,231.5 v2.5 M321.36,397.5 v-2.5 M321.36,231.5 v2.5 M328.29,397.5 v-4.5 M328.29,231.5 v4.5 M335.22,397.5 v-2.5 M335.22,231.5 v2.5 M342.15,397.5 v-2.5 M342.15,231.5 v2.5 M349.08,397.5 v-2.5 M349.08,231.5 v2.5 M356.01,397.5 v-2.5 M356.01,231.5 v2.5 M362.93,397.5 v-4.5 M362.93,231.5 v4.5 M369.86,397.5 v-2.5 M369.86,231.5 v2.5 M376.79,397.5 v-2.5 M376.79,231.5 v2.5 M383.72,397.5 v-2.5 M383.72,231.5 v2.5 M390.65,397.5 v-2.5 M390.65,231.5 v2.5 M397.58,397.5 v-4.5 M397.58,231.5 v4.5 M404.50,397.5 v-2.5 M404.50,231.5 v2.5 M411.43,397.5 v-2.5 M411.43,231.5 v2.5 M418.36,397.5 v-2.5 M418.36,231.5 v2.5 M425.29,397.5 v-2.5 M425.29,231.5 v2.5 M432.22,397.5 v-4.5 M432.22,231.5 v4.5 M439.15,397.5 v-2.5 M439.15,231.5 v2.5 M446.07,397.5 v-2.5 M446.07,231.5 v2.5 M453.00,397.5 v-2.5 M453.00,231.5 v2.5 M459.93,397.5 v-2.5 M459.93,231.5 v2.5 M466.86,397.5 v-4.5 M466.86,231.5 v4.5 M473.79,397.5 v-2.5 M473.79,231.5 v2.5 M480.72,397.5 v-2.5 M480.72,231.5 v2.5 M487.64,397.5 v-2.5 M487.64,231.5 v2.5 M494.57,397.5 v-2.5 M494.57,231.5 v2.5 M298.5,232.20 h2.5 M501.5,232.20 h-2.5 M298.5,257.45 h2.5 M501.5,257.45 h-2.5 M298.5,282.70 h4.5 M501.5,282.70 h-4.5 M298.5,307.95 h2.5 M501.5,307.95 h-2.5 M298.5,333.20 h2.5 M501.5,333.20 h-2.5 M298.5,358.45 h2.5 M501.5,358.45 h-2.5 M298.5,383.70 h4.5 M501.5,383.70 h-4.5" stroke="#333333" stroke-width="1" fill="none"/>
<rect x="298.5" y="231.5" width="203.0" height="166.0" fill="none" stroke="#333333" stroke-width="1"/>
<g clip-path="url(#c6)" fill="none" stroke-width="1.4" stroke-linejoin="round">
<path d="M299.30,244.50 C301.20,246.21 303.10,248.94 305.00,249.00 C316.77,249.34 328.53,249.14 340.30,249.40 C350.13,249.61 359.97,252.00 369.80,254.40 C379.20,256.70 388.60,264.13 398.00,266.60 C402.67,267.83 407.33,268.54 412.00,269.40 C419.03,270.70 426.07,272.86 433.10,273.00 C455.90,273.45 478.70,273.60 501.50,273.60" stroke="#e0d500" stroke-dasharray="5.2 3.8"/>
<path d="M299.30,244.50 L305.00,257.70 L501.50,257.70" stroke="#a5e000"/>
<path d="M299.30,246.00 L310.00,261.50 L501.50,261.50" stroke="#5ee000" stroke-dasharray="1.3 1.0"/>
<path d="M299.30,241.80 C304.77,246.28 310.23,250.33 315.70,252.80 C322.57,255.91 329.43,257.03 336.30,259.70 C343.20,262.38 350.10,266.94 357.00,269.30 C363.90,271.66 370.80,274.32 377.70,274.90 C385.13,275.53 392.57,276.00 400.00,276.00 C433.83,276.00 467.67,276.00 501.50,276.00" stroke="#00e076"/>
<path d="M299.30,241.80 C302.47,244.01 305.63,246.30 308.80,248.70 C313.40,252.19 318.00,256.53 322.60,259.70 C327.17,262.84 331.73,266.59 336.30,268.00 C343.20,270.13 350.10,271.36 357.00,272.10 C371.33,273.63 385.67,273.59 400.00,275.00 C410.00,275.99 420.00,279.27 430.00,280.00 C453.83,281.74 477.67,283.00 501.50,283.00" stroke="#00bde0" stroke-dasharray="5 1.1 1.3 1.1"/>
<path d="M299.30,241.80 C302.87,245.51 306.43,249.08 310.00,252.00 C316.67,257.47 323.33,263.20 330.00,266.00 C336.67,268.80 343.33,271.78 350.00,272.00 C400.50,273.67 451.00,274.00 501.50,274.00" stroke="#00e0bd" stroke-dasharray="1.3 1.0"/>
<path d="M299.30,245.00 L303.00,272.00 L320.00,281.00 L501.50,282.00" stroke="#18e000" stroke-dasharray="5 1.1 1.3 1.1"/>
<path d="M299.30,245.00 L305.00,272.00 L320.00,282.00 L501.50,282.50" stroke="#e08e00" stroke-dasharray="5 1.1 1.3 1.1"/>
<path d="M299.30,245.00 L308.80,262.00 L322.60,272.00 L340.00,278.00 L501.50,284.00" stroke="#e0008e" stroke-dasharray="1.3 1.0"/>
<path d="M299.30,243.00 L310.80,260.00 L322.00,272.00 L340.00,280.00 L501.50,285.00" stroke="#e03a1e" stroke-dasharray="1.3 1.0"/>
<path d="M299.30,265.90 L303.30,276.00 L322.60,279.00 L501.50,285.50" stroke="#e00047" stroke-dasharray="5 1.1 1.3 1.1"/>
<path d="M299.50,231.50 L300.00,240.00 L303.00,270.00 L319.80,283.10 L501.50,283.80" stroke="#0076e0" stroke-dasharray="5.2 3.8"/>
<path d="M299.30,241.50 L303.30,272.00 L319.80,283.10 L501.50,283.80" stroke="#002fe0" stroke-dasharray="5 1.1 1.3 1.1"/>
<path d="M299.30,241.50 L303.30,272.00 L320.00,273.00 L398.00,277.90 L433.00,280.00 L440.00,282.00 L501.50,283.50" stroke="#1800e0" stroke-dasharray="1.3 1.0"/>
<path d="M299.30,241.50 L303.30,272.00 L320.00,273.50 L398.00,278.00 L433.00,280.50 L501.50,283.00" stroke="#5e00e0" stroke-dasharray="5 1.1 1.3 1.1"/>
<path d="M299.30,242.00 L303.30,275.00 L320.00,276.00 L501.50,276.20" stroke="#a500e0" stroke-dasharray="5.2 3.8"/>
<path d="M299.30,242.00 L303.30,275.00 L320.00,275.50 L501.50,276.50" stroke="#e000d5"/>
<path d="M299.30,269.30 C300.63,276.51 301.97,285.30 303.30,287.30 C307.43,293.51 311.57,295.94 315.70,296.90 C327.17,299.58 338.63,300.27 350.10,301.00 C366.73,302.07 383.37,302.89 400.00,303.10 C433.83,303.54 467.67,303.80 501.50,303.80" stroke="#00e02f" stroke-dasharray="5.2 3.8"/>
<path d="M299.10,268.00 L303.30,288.60 L315.70,299.70 L336.30,306.50 L363.90,309.30 L391.50,312.10 L412.50,318.30 L428.90,323.30 L443.70,330.00 L449.40,333.10 L454.70,340.50 L457.30,352.00 L462.00,370.00 L466.60,382.30 L478.10,392.20 L491.20,396.10 L501.50,397.00" stroke="#e00000"/>
</g>
<text x="328.29" y="413.30" font-size="11" text-anchor="middle" >0.5</text>
<text x="362.93" y="413.30" font-size="11" text-anchor="middle" >1</text>
<text x="397.58" y="413.30" font-size="11" text-anchor="middle" >1.5</text>
<text x="432.22" y="413.30" font-size="11" text-anchor="middle" >2</text>
<text x="466.86" y="413.30" font-size="11" text-anchor="middle" >2.5</text>
<text x="501.50" y="413.30" font-size="11" text-anchor="middle" >3</text>
<text x="400.00" y="427.30" font-size="11.5" text-anchor="middle" >FEs</text>
<g><text x="479.10" y="432.70" font-size="15" font-weight="normal" text-anchor="middle">&#215;</text><text x="484.30" y="430.90" font-size="11">10</text><text x="496.30" y="425.30" font-size="8.8">5</text></g>
<text x="400.00" y="228.70" font-size="11.2" text-anchor="middle" >F5</text>
<text x="260.8" y="314.5" font-size="11.6" text-anchor="middle" transform="rotate(-90 260.8 314.5)" dy="4">Best Score</text>
<text x="294.00" y="288.70" font-size="11.3" text-anchor="end">10<tspan font-size="9.5" dy="-5.3">0</tspan></text>
<text x="294.00" y="389.70" font-size="11.3" text-anchor="end">10<tspan font-size="9.5" dy="-5.3">-20</tspan></text>
<clipPath id="c7"><rect x="552.5" y="231.5" width="206.0" height="166.0"/></clipPath>
<path d="M554.61,397.5 v-2.5 M554.61,231.5 v2.5 M561.64,397.5 v-2.5 M561.64,231.5 v2.5 M568.67,397.5 v-2.5 M568.67,231.5 v2.5 M575.70,397.5 v-2.5 M575.70,231.5 v2.5 M582.73,397.5 v-4.5 M582.73,231.5 v4.5 M589.76,397.5 v-2.5 M589.76,231.5 v2.5 M596.79,397.5 v-2.5 M596.79,231.5 v2.5 M603.82,397.5 v-2.5 M603.82,231.5 v2.5 M610.85,397.5 v-2.5 M610.85,231.5 v2.5 M617.89,397.5 v-4.5 M617.89,231.5 v4.5 M624.92,397.5 v-2.5 M624.92,231.5 v2.5 M631.95,397.5 v-2.5 M631.95,231.5 v2.5 M638.98,397.5 v-2.5 M638.98,231.5 v2.5 M646.01,397.5 v-2.5 M646.01,231.5 v2.5 M653.04,397.5 v-4.5 M653.04,231.5 v4.5 M660.07,397.5 v-2.5 M660.07,231.5 v2.5 M667.10,397.5 v-2.5 M667.10,231.5 v2.5 M674.13,397.5 v-2.5 M674.13,231.5 v2.5 M681.16,397.5 v-2.5 M681.16,231.5 v2.5 M688.19,397.5 v-4.5 M688.19,231.5 v4.5 M695.22,397.5 v-2.5 M695.22,231.5 v2.5 M702.25,397.5 v-2.5 M702.25,231.5 v2.5 M709.28,397.5 v-2.5 M709.28,231.5 v2.5 M716.32,397.5 v-2.5 M716.32,231.5 v2.5 M723.35,397.5 v-4.5 M723.35,231.5 v4.5 M730.38,397.5 v-2.5 M730.38,231.5 v2.5 M737.41,397.5 v-2.5 M737.41,231.5 v2.5 M744.44,397.5 v-2.5 M744.44,231.5 v2.5 M751.47,397.5 v-2.5 M751.47,231.5 v2.5 M552.5,240.72 h2.5 M758.5,240.72 h-2.5 M552.5,249.69 h2.5 M758.5,249.69 h-2.5 M552.5,257.27 h2.5 M758.5,257.27 h-2.5 M552.5,263.83 h2.5 M758.5,263.83 h-2.5 M552.5,269.62 h2.5 M758.5,269.62 h-2.5 M552.5,274.80 h4.5 M758.5,274.80 h-4.5 M552.5,308.88 h2.5 M758.5,308.88 h-2.5 M552.5,328.81 h2.5 M758.5,328.81 h-2.5 M552.5,342.95 h2.5 M758.5,342.95 h-2.5 M552.5,353.92 h2.5 M758.5,353.92 h-2.5 M552.5,362.89 h2.5 M758.5,362.89 h-2.5 M552.5,370.47 h2.5 M758.5,370.47 h-2.5 M552.5,377.03 h2.5 M758.5,377.03 h-2.5 M552.5,382.82 h2.5 M758.5,382.82 h-2.5 M552.5,388.00 h4.5 M758.5,388.00 h-4.5" stroke="#333333" stroke-width="1" fill="none"/>
<rect x="552.5" y="231.5" width="206.0" height="166.0" fill="none" stroke="#333333" stroke-width="1"/>
<g clip-path="url(#c7)" fill="none" stroke-width="1.4" stroke-linejoin="round">
<path d="M552.30,314.00 L557.00,395.00 L758.80,396.50" stroke="#e00000"/>
<path d="M552.30,310.90 L553.50,330.00 L554.50,340.00" stroke="#e00047" stroke-dasharray="5 1.1 1.3 1.1"/>
<path d="M552.30,230.90 L554.60,261.30 L558.00,297.70 L559.60,304.90 L758.80,304.90" stroke="#0076e0" stroke-dasharray="5.2 3.8"/>
<path d="M552.30,310.90 C552.70,319.37 553.10,331.38 553.50,331.70 C554.87,332.81 556.23,332.75 557.60,333.10 C563.60,334.65 569.60,335.57 575.60,336.50 C584.77,337.91 593.93,339.05 603.10,340.00 C618.73,341.62 634.37,341.94 650.00,344.00 C657.33,344.97 664.67,347.19 672.00,349.10 C679.37,351.02 686.73,353.94 694.10,355.70 C701.43,357.46 708.77,359.04 716.10,360.10 C723.47,361.16 730.83,362.30 738.20,362.60 C744.97,362.87 751.73,363.10 758.50,363.10" stroke="#18e000" stroke-dasharray="5 1.1 1.3 1.1"/>
<path d="M552.30,314.20 C556.40,326.50 560.50,341.18 564.60,342.30 C572.83,344.54 581.07,344.59 589.30,345.50 C596.20,346.26 603.10,346.41 610.00,347.50 C614.60,348.23 619.20,350.49 623.80,352.40 C628.40,354.31 633.00,356.35 637.60,359.30 C640.80,361.35 644.00,365.64 647.20,367.50 C650.80,369.59 654.40,372.14 658.00,372.20 C691.50,372.73 725.00,372.80 758.50,372.80" stroke="#e0d500" stroke-dasharray="5.2 3.8"/>
<path d="M552.30,314.20 L558.00,369.60 L758.50,369.60" stroke="#a5e000"/>
<path d="M552.30,310.90 L558.00,373.70 L758.80,379.40" stroke="#e00047" stroke-dasharray="5 1.1 1.3 1.1"/>
<path d="M552.30,314.00 L558.00,378.70 L758.80,380.30" stroke="#5ee000" stroke-dasharray="1.3 1.0"/>
<path d="M552.30,310.90 L559.00,377.00 L652.00,383.60 L658.00,387.00 L758.80,387.00" stroke="#e0008e" stroke-dasharray="1.3 1.0"/>
<path d="M552.30,314.00 L558.00,385.50 L653.00,390.30 L758.50,393.00" stroke="#00e0bd" stroke-dasharray="1.3 1.0"/>
<path d="M552.50,314.00 C552.83,319.09 553.17,324.90 553.50,327.60 C554.87,338.66 556.23,343.86 557.60,348.20 C561.30,359.96 565.00,366.30 568.70,371.70 C573.30,378.41 577.90,381.98 582.50,386.80 C585.70,390.15 588.90,396.47 592.10,396.50 C647.57,396.97 703.03,397.00 758.50,397.00" stroke="#00bde0" stroke-dasharray="5 1.1 1.3 1.1"/>
<path d="M552.50,314.00 C552.83,319.10 553.17,325.93 553.50,327.60 C555.33,336.78 557.17,338.51 559.00,341.30 C563.60,348.29 568.20,351.61 572.80,355.10 C580.60,361.02 588.40,365.17 596.20,368.90 C605.40,373.30 614.60,376.22 623.80,379.90 C633.53,383.79 643.27,387.70 653.00,391.60 C656.00,392.80 659.00,395.20 662.00,395.20 C694.17,395.20 726.33,395.20 758.50,395.20" stroke="#00e076"/>
<path d="M552.30,314.00 L556.00,380.00 L565.00,395.00 L758.80,396.00" stroke="#e03a1e" stroke-dasharray="1.3 1.0"/>
<path d="M552.30,314.00 L557.00,385.00 L570.00,396.00 L758.80,396.50" stroke="#e08e00" stroke-dasharray="5 1.1 1.3 1.1"/>
<path d="M552.30,314.00 L556.00,390.00 L560.00,396.00 L758.80,396.50" stroke="#00e02f" stroke-dasharray="5.2 3.8"/>
<path d="M552.30,314.00 L555.00,385.00 L562.00,396.00 L758.80,396.50" stroke="#002fe0" stroke-dasharray="5 1.1 1.3 1.1"/>
<path d="M552.30,314.00 L556.00,392.00 L565.00,396.00 L758.80,396.50" stroke="#1800e0" stroke-dasharray="1.3 1.0"/>
<path d="M552.30,314.00 L557.00,390.00 L567.00,396.00 L758.80,396.50" stroke="#5e00e0" stroke-dasharray="5 1.1 1.3 1.1"/>
<path d="M552.30,314.00 L556.00,388.00 L566.00,396.00 L758.80,396.50" stroke="#a500e0" stroke-dasharray="5.2 3.8"/>
<path d="M552.50,314.00 L556.00,370.00 L559.00,382.70 L565.90,385.40 L575.60,392.30 L589.30,395.10 L653.00,396.50 L758.50,396.50" stroke="#e000d5"/>
</g>
<text x="582.73" y="413.30" font-size="11" text-anchor="middle" >0.5</text>
<text x="617.89" y="413.30" font-size="11" text-anchor="middle" >1</text>
<text x="653.04" y="413.30" font-size="11" text-anchor="middle" >1.5</text>
<text x="688.19" y="413.30" font-size="11" text-anchor="middle" >2</text>
<text x="723.35" y="413.30" font-size="11" text-anchor="middle" >2.5</text>
<text x="758.50" y="413.30" font-size="11" text-anchor="middle" >3</text>
<text x="655.50" y="427.30" font-size="11.5" text-anchor="middle" >FEs</text>
<g><text x="736.10" y="432.70" font-size="15" font-weight="normal" text-anchor="middle">&#215;</text><text x="741.30" y="430.90" font-size="11">10</text><text x="753.30" y="425.30" font-size="8.8">5</text></g>
<text x="655.50" y="228.70" font-size="11.2" text-anchor="middle" >F8</text>
<text x="518.7" y="314.5" font-size="11.6" text-anchor="middle" transform="rotate(-90 518.7 314.5)" dy="4">Best Score</text>
<text x="548.00" y="280.80" font-size="11.3" text-anchor="end">-10<tspan font-size="9.5" dy="-5.3">3</tspan></text>
<text x="548.00" y="394.00" font-size="11.3" text-anchor="end">-10<tspan font-size="9.5" dy="-5.3">4</tspan></text>
<clipPath id="c8"><rect x="42.5" y="450.5" width="203.0" height="166.0"/></clipPath>
<path d="M44.58,616.5 v-2.5 M44.58,450.5 v2.5 M51.51,616.5 v-2.5 M51.51,450.5 v2.5 M58.44,616.5 v-2.5 M58.44,450.5 v2.5 M65.36,616.5 v-2.5 M65.36,450.5 v2.5 M72.29,616.5 v-4.5 M72.29,450.5 v4.5 M79.22,616.5 v-2.5 M79.22,450.5 v2.5 M86.15,616.5 v-2.5 M86.15,450.5 v2.5 M93.08,616.5 v-2.5 M93.08,450.5 v2.5 M100.01,616.5 v-2.5 M100.01,450.5 v2.5 M106.93,616.5 v-4.5 M106.93,450.5 v4.5 M113.86,616.5 v-2.5 M113.86,450.5 v2.5 M120.79,616.5 v-2.5 M120.79,450.5 v2.5 M127.72,616.5 v-2.5 M127.72,450.5 v2.5 M134.65,616.5 v-2.5 M134.65,450.5 v2.5 M141.58,616.5 v-4.5 M141.58,450.5 v4.5 M148.50,616.5 v-2.5 M148.50,450.5 v2.5 M155.43,616.5 v-2.5 M155.43,450.5 v2.5 M162.36,616.5 v-2.5 M162.36,450.5 v2.5 M169.29,616.5 v-2.5 M169.29,450.5 v2.5 M176.22,616.5 v-4.5 M176.22,450.5 v4.5 M183.15,616.5 v-2.5 M183.15,450.5 v2.5 M190.07,616.5 v-2.5 M190.07,450.5 v2.5 M197.00,616.5 v-2.5 M197.00,450.5 v2.5 M203.93,616.5 v-2.5 M203.93,450.5 v2.5 M210.86,616.5 v-4.5 M210.86,450.5 v4.5 M217.79,616.5 v-2.5 M217.79,450.5 v2.5 M224.72,616.5 v-2.5 M224.72,450.5 v2.5 M231.64,616.5 v-2.5 M231.64,450.5 v2.5 M238.57,616.5 v-2.5 M238.57,450.5 v2.5 M42.5,456.76 h2.5 M245.5,456.76 h-2.5 M42.5,465.32 h2.5 M245.5,465.32 h-2.5 M42.5,473.88 h2.5 M245.5,473.88 h-2.5 M42.5,482.44 h2.5 M245.5,482.44 h-2.5 M42.5,491.00 h4.5 M245.5,491.00 h-4.5 M42.5,499.56 h2.5 M245.5,499.56 h-2.5 M42.5,508.12 h2.5 M245.5,508.12 h-2.5 M42.5,516.68 h2.5 M245.5,516.68 h-2.5 M42.5,525.24 h2.5 M245.5,525.24 h-2.5 M42.5,533.80 h4.5 M245.5,533.80 h-4.5 M42.5,542.36 h2.5 M245.5,542.36 h-2.5 M42.5,550.92 h2.5 M245.5,550.92 h-2.5 M42.5,559.48 h2.5 M245.5,559.48 h-2.5 M42.5,568.04 h2.5 M245.5,568.04 h-2.5 M42.5,576.60 h4.5 M245.5,576.60 h-4.5 M42.5,585.16 h2.5 M245.5,585.16 h-2.5 M42.5,593.72 h2.5 M245.5,593.72 h-2.5 M42.5,602.28 h2.5 M245.5,602.28 h-2.5 M42.5,610.84 h2.5 M245.5,610.84 h-2.5" stroke="#333333" stroke-width="1" fill="none"/>
<rect x="42.5" y="450.5" width="203.0" height="166.0" fill="none" stroke="#333333" stroke-width="1"/>
<g clip-path="url(#c8)" fill="none" stroke-width="1.4" stroke-linejoin="round">
<path d="M42.70,471.00 L245.50,472.60" stroke="#5ee000" stroke-dasharray="1.3 1.0"/>
<path d="M42.70,471.00 L245.50,474.00" stroke="#e0d500" stroke-dasharray="5.2 3.8"/>
<path d="M42.70,471.00 L245.50,479.20" stroke="#00e0bd" stroke-dasharray="1.3 1.0"/>
<path d="M42.70,471.00 C76.80,472.04 110.90,473.73 145.00,475.60 C163.37,476.61 181.73,477.18 200.10,479.30 C207.47,480.15 214.83,482.73 222.20,484.80 C229.97,486.98 237.73,489.51 245.50,492.30" stroke="#00e076"/>
<path d="M42.70,469.40 L245.50,469.40" stroke="#a5e000"/>
<path d="M43.50,450.50 L44.50,462.00 L46.50,470.00" stroke="#0076e0" stroke-dasharray="5.2 3.8"/>
<path d="M42.70,469.40 C66.73,469.40 90.77,472.64 114.80,477.60 C124.87,479.68 134.93,485.67 145.00,494.00 C151.13,499.08 157.27,511.01 163.40,521.50 C169.53,531.99 175.67,544.65 181.80,558.30 C187.90,571.88 194.00,592.34 200.10,604.20 C202.57,608.99 205.03,613.00 207.50,616.50" stroke="#00bde0" stroke-dasharray="5 1.1 1.3 1.1"/>
<path d="M42.70,469.40 L98.40,479.20 L134.50,498.90" stroke="#e03a1e" stroke-dasharray="1.3 1.0"/>
<path d="M43.40,470.20 C47.93,471.32 52.47,475.49 57.00,480.00 C59.30,482.29 61.60,489.90 63.90,489.90 C124.43,489.90 184.97,489.90 245.50,489.90" stroke="#1800e0" stroke-dasharray="1.3 1.0"/>
<path d="M43.40,470.20 L57.00,480.00 L63.90,489.90 L245.50,489.90" stroke="#a500e0" stroke-dasharray="5.2 3.8"/>
<path d="M43.40,470.20 L53.70,482.20 L63.90,499.30 L245.50,499.30" stroke="#002fe0" stroke-dasharray="5 1.1 1.3 1.1"/>
<path d="M42.70,472.70 L50.00,490.00 L55.80,505.50" stroke="#18e000" stroke-dasharray="5 1.1 1.3 1.1"/>
<path d="M43.40,470.20 C47.97,470.20 52.53,481.31 57.10,494.20 C59.37,500.60 61.63,517.68 63.90,531.70 C66.17,545.72 68.43,556.75 70.70,579.60 C71.30,585.65 71.90,595.77 72.50,605.20" stroke="#1800e0" stroke-dasharray="1.3 1.0"/>
<path d="M43.40,470.20 C46.83,470.20 50.27,477.18 53.70,485.60 C55.40,489.77 57.10,502.66 58.80,511.20 C61.07,522.59 63.33,534.01 65.60,545.40 C67.30,553.94 69.00,558.46 70.70,571.00 C71.57,577.39 72.43,589.54 73.30,601.80" stroke="#5e00e0" stroke-dasharray="5 1.1 1.3 1.1"/>
<path d="M43.40,470.20 L65.60,495.90 L70.70,545.40 L74.20,579.60 L79.30,601.80 L83.00,603.50 L245.50,603.50" stroke="#a500e0" stroke-dasharray="5.2 3.8"/>
<path d="M43.40,470.20 L70.70,499.30 L74.20,504.40 L78.70,528.40 L83.60,576.10 L110.00,576.10 L115.10,590.70 L130.50,590.70 L135.60,606.90 L150.00,610.30 L180.40,612.10 L196.90,615.40 L245.50,616.50" stroke="#e08e00" stroke-dasharray="5 1.1 1.3 1.1"/>
<path d="M43.40,470.20 C53.67,478.99 63.93,489.41 74.20,501.00 C85.57,513.83 96.93,527.04 108.30,545.40 C114.00,554.61 119.70,569.27 125.40,579.60 C130.53,588.91 135.67,597.49 140.80,605.20" stroke="#e0008e" stroke-dasharray="1.3 1.0"/>
<path d="M43.40,470.20 L91.20,478.80 L111.70,489.00 L118.60,502.70 L125.40,503.60 L130.50,540.30 L140.80,550.50 L147.60,571.10 L156.80,590.80" stroke="#e00047" stroke-dasharray="5 1.1 1.3 1.1"/>
<path d="M43.40,470.20 C49.10,470.20 54.80,477.49 60.50,485.60 C62.77,488.83 65.03,491.60 67.30,502.70 C68.17,506.94 69.03,529.62 69.90,545.40 C70.47,555.72 71.03,571.61 71.60,579.60 C72.47,591.83 73.33,602.84 74.20,606.90" stroke="#e000d5"/>
<path d="M43.40,475.40 L45.10,494.20 L46.80,524.90 L50.20,545.40 L57.10,560.80 L65.60,567.60 L79.30,572.70 L91.20,583.00 L99.80,593.20 L108.30,596.60 L113.40,606.90" stroke="#00e02f" stroke-dasharray="5.2 3.8"/>
<path d="M43.40,470.20 L45.10,494.20 L47.70,528.30 L52.80,540.30 L65.60,546.30 L82.70,553.90 L94.70,557.40 L104.90,560.80 L115.10,566.70 L125.40,568.50 L135.60,577.80 L150.00,593.20 L154.20,603.90 L156.80,607.20" stroke="#e00000"/>
</g>
<text x="72.29" y="632.30" font-size="11" text-anchor="middle" >0.5</text>
<text x="106.93" y="632.30" font-size="11" text-anchor="middle" >1</text>
<text x="141.58" y="632.30" font-size="11" text-anchor="middle" >1.5</text>
<text x="176.22" y="632.30" font-size="11" text-anchor="middle" >2</text>
<text x="210.86" y="632.30" font-size="11" text-anchor="middle" >2.5</text>
<text x="245.50" y="632.30" font-size="11" text-anchor="middle" >3</text>
<text x="144.00" y="646.30" font-size="11.5" text-anchor="middle" >FEs</text>
<g><text x="223.10" y="651.70" font-size="15" font-weight="normal" text-anchor="middle">&#215;</text><text x="228.30" y="649.90" font-size="11">10</text><text x="240.30" y="644.30" font-size="8.8">5</text></g>
<text x="144.00" y="447.70" font-size="11.2" text-anchor="middle" >F9</text>
<text x="5.2" y="533.5" font-size="11.6" text-anchor="middle" transform="rotate(-90 5.2 533.5)" dy="4">Best Score</text>
<text x="38.00" y="497.00" font-size="11.3" text-anchor="end">10<tspan font-size="9.5" dy="-5.3">0</tspan></text>
<text x="38.00" y="539.80" font-size="11.3" text-anchor="end">10<tspan font-size="9.5" dy="-5.3">-5</tspan></text>
<text x="38.00" y="582.60" font-size="11.3" text-anchor="end">10<tspan font-size="9.5" dy="-5.3">-10</tspan></text>
<clipPath id="c9"><rect x="298.5" y="450.5" width="203.0" height="166.0"/></clipPath>
<path d="M300.58,616.5 v-2.5 M300.58,450.5 v2.5 M307.51,616.5 v-2.5 M307.51,450.5 v2.5 M314.44,616.5 v-2.5 M314.44,450.5 v2.5 M321.36,616.5 v-2.5 M321.36,450.5 v2.5 M328.29,616.5 v-4.5 M328.29,450.5 v4.5 M335.22,616.5 v-2.5 M335.22,450.5 v2.5 M342.15,616.5 v-2.5 M342.15,450.5 v2.5 M349.08,616.5 v-2.5 M349.08,450.5 v2.5 M356.01,616.5 v-2.5 M356.01,450.5 v2.5 M362.93,616.5 v-4.5 M362.93,450.5 v4.5 M369.86,616.5 v-2.5 M369.86,450.5 v2.5 M376.79,616.5 v-2.5 M376.79,450.5 v2.5 M383.72,616.5 v-2.5 M383.72,450.5 v2.5 M390.65,616.5 v-2.5 M390.65,450.5 v2.5 M397.58,616.5 v-4.5 M397.58,450.5 v4.5 M404.50,616.5 v-2.5 M404.50,450.5 v2.5 M411.43,616.5 v-2.5 M411.43,450.5 v2.5 M418.36,616.5 v-2.5 M418.36,450.5 v2.5 M425.29,616.5 v-2.5 M425.29,450.5 v2.5 M432.22,616.5 v-4.5 M432.22,450.5 v4.5 M439.15,616.5 v-2.5 M439.15,450.5 v2.5 M446.07,616.5 v-2.5 M446.07,450.5 v2.5 M453.00,616.5 v-2.5 M453.00,450.5 v2.5 M459.93,616.5 v-2.5 M459.93,450.5 v2.5 M466.86,616.5 v-4.5 M466.86,450.5 v4.5 M473.79,616.5 v-2.5 M473.79,450.5 v2.5 M480.72,616.5 v-2.5 M480.72,450.5 v2.5 M487.64,616.5 v-2.5 M487.64,450.5 v2.5 M494.57,616.5 v-2.5 M494.57,450.5 v2.5 M298.5,464.00 h4.5 M501.5,464.00 h-4.5 M298.5,514.60 h2.5 M501.5,514.60 h-2.5 M298.5,565.20 h4.5 M501.5,565.20 h-4.5 M298.5,615.80 h2.5 M501.5,615.80 h-2.5" stroke="#333333" stroke-width="1" fill="none"/>
<rect x="298.5" y="450.5" width="203.0" height="166.0" fill="none" stroke="#333333" stroke-width="1"/>
<g clip-path="url(#c9)" fill="none" stroke-width="1.4" stroke-linejoin="round">
<path d="M299.00,452.00 L501.50,454.00" stroke="#00e0bd" stroke-dasharray="1.3 1.0"/>
<path d="M299.00,452.00 L501.50,453.00" stroke="#a5e000"/>
<path d="M299.00,452.00 L501.50,454.60" stroke="#5ee000" stroke-dasharray="1.3 1.0"/>
<path d="M299.30,453.00 L386.00,456.00 L419.00,459.00 L501.50,461.00" stroke="#e0d500" stroke-dasharray="5.2 3.8"/>
<path d="M299.30,455.00 L314.00,464.50 L501.50,464.50" stroke="#002fe0" stroke-dasharray="5 1.1 1.3 1.1"/>
<path d="M299.30,455.00 L304.00,468.80 L501.50,468.80" stroke="#a500e0" stroke-dasharray="5.2 3.8"/>
<path d="M299.30,455.00 L312.00,479.30 L501.50,479.30" stroke="#1800e0" stroke-dasharray="1.3 1.0"/>
<path d="M299.30,450.70 C316.23,450.70 333.17,453.57 350.10,459.00 C353.17,459.98 356.23,463.12 359.30,466.40 C362.37,469.68 365.43,475.23 368.50,481.10 C371.57,486.97 374.63,496.42 377.70,503.10 C380.77,509.78 383.83,514.68 386.90,521.50 C388.73,525.58 390.57,531.10 392.40,535.00 C393.27,536.84 394.13,538.04 395.00,540.00 C397.43,545.51 399.87,553.58 402.30,561.90 C404.77,570.33 407.23,584.15 409.70,591.30 C411.53,596.61 413.37,603.11 415.20,604.10 C420.13,606.76 425.07,607.75 430.00,608.00 C453.83,609.21 477.67,609.60 501.50,609.60" stroke="#00e076"/>
<path d="M299.30,451.00 C310.13,451.00 320.97,453.66 331.80,457.20 C337.90,459.20 344.00,466.03 350.10,471.90 C356.23,477.80 362.37,488.11 368.50,494.00 C374.63,499.89 380.77,502.84 386.90,508.70 C389.60,511.28 392.30,514.92 395.00,517.80 C401.13,524.34 407.27,529.76 413.40,536.20 C419.50,542.60 425.60,549.68 431.70,556.40 C437.83,563.15 443.97,569.87 450.10,576.60 C456.23,583.33 462.37,593.21 468.50,596.80 C474.60,600.37 480.70,602.93 486.80,604.10 C491.70,605.04 496.60,605.96 501.50,606.00" stroke="#00bde0" stroke-dasharray="5 1.1 1.3 1.1"/>
<path d="M299.30,453.00 L313.40,459.00 L331.80,475.60 L350.10,490.30 L368.50,503.10 L386.90,514.20 L400.50,521.50 L404.20,527.00 L413.40,538.90 L428.10,538.90 L433.60,552.70 L446.40,552.70 L450.10,561.90 L460.20,561.90 L464.80,609.60 L466.60,616.50" stroke="#e0008e" stroke-dasharray="1.3 1.0"/>
<path d="M298.70,453.50 C303.60,453.50 308.50,459.89 313.40,470.10 C315.23,473.92 317.07,500.13 318.90,500.40 C329.30,501.94 339.70,501.30 350.10,502.20 C359.30,503.00 368.50,504.10 377.70,506.80 C383.47,508.49 389.23,515.78 395.00,521.50 C401.13,527.58 407.27,536.80 413.40,543.50 C419.50,550.16 425.60,555.50 431.70,561.90 C437.83,568.34 443.97,576.17 450.10,582.10 C455.00,586.84 459.90,591.76 464.80,594.90 C470.93,598.84 477.07,601.80 483.20,604.10 C489.30,606.39 495.40,608.37 501.50,609.60" stroke="#e00047" stroke-dasharray="5 1.1 1.3 1.1"/>
<path d="M299.30,495.80 C302.77,502.53 306.23,508.93 309.70,512.30 C315.23,517.67 320.77,520.65 326.30,523.40 C334.23,527.35 342.17,529.13 350.10,532.60 C355.03,534.76 359.97,537.00 364.90,539.90 C369.17,542.41 373.43,545.53 377.70,549.10 C382.00,552.70 386.30,556.69 390.60,562.00 C393.73,565.87 396.87,569.38 400.00,576.70 C401.97,581.29 403.93,590.75 405.90,600.60" stroke="#00e02f" stroke-dasharray="5.2 3.8"/>
<path d="M298.70,466.40 L302.40,503.10 L308.80,606.50 L501.50,607.00" stroke="#18e000" stroke-dasharray="5 1.1 1.3 1.1"/>
<path d="M299.30,451.70 L306.00,457.20 L318.90,484.80 L331.80,530.70 L342.80,576.70 L350.10,595.00 L359.30,600.00 L501.50,600.00" stroke="#e08e00" stroke-dasharray="5 1.1 1.3 1.1"/>
<path d="M299.30,453.00 L302.40,455.40 L313.40,484.80 L322.60,539.90 L328.10,595.00 L331.80,600.60 L501.50,600.60" stroke="#0076e0" stroke-dasharray="5.2 3.8"/>
<path d="M298.70,451.70 L318.90,494.00 L328.00,540.00 L337.00,595.00 L342.00,610.00" stroke="#e03a1e" stroke-dasharray="1.3 1.0"/>
<path d="M298.70,451.70 L313.40,494.00 L329.90,600.60 L339.10,607.00 L501.50,607.00" stroke="#5e00e0" stroke-dasharray="5 1.1 1.3 1.1"/>
<path d="M298.70,457.20 C301.77,471.24 304.83,484.40 307.90,494.00 C312.80,509.34 317.70,514.77 322.60,530.70 C325.03,538.61 327.47,549.73 329.90,562.00 C331.73,571.24 333.57,588.19 335.40,595.00 C337.23,601.81 339.07,608.52 340.90,609.80 C347.03,614.07 353.17,616.00 359.30,616.00 C406.70,616.00 454.10,616.00 501.50,616.00" stroke="#e000d5"/>
<path d="M298.70,477.40 L303.30,490.30 L307.90,497.60 L322.60,504.10 L350.10,510.50 L377.70,517.90 L395.00,523.30 L404.20,528.80 L413.40,543.50 L418.00,616.50" stroke="#e00000"/>
</g>
<text x="328.29" y="632.30" font-size="11" text-anchor="middle" >0.5</text>
<text x="362.93" y="632.30" font-size="11" text-anchor="middle" >1</text>
<text x="397.58" y="632.30" font-size="11" text-anchor="middle" >1.5</text>
<text x="432.22" y="632.30" font-size="11" text-anchor="middle" >2</text>
<text x="466.86" y="632.30" font-size="11" text-anchor="middle" >2.5</text>
<text x="501.50" y="632.30" font-size="11" text-anchor="middle" >3</text>
<text x="400.00" y="646.30" font-size="11.5" text-anchor="middle" >FEs</text>
<g><text x="479.10" y="651.70" font-size="15" font-weight="normal" text-anchor="middle">&#215;</text><text x="484.30" y="649.90" font-size="11">10</text><text x="496.30" y="644.30" font-size="8.8">5</text></g>
<text x="400.00" y="447.70" font-size="11.2" text-anchor="middle" >F10</text>
<text x="260.8" y="533.5" font-size="11.6" text-anchor="middle" transform="rotate(-90 260.8 533.5)" dy="4">Best Score</text>
<text x="294.00" y="470.00" font-size="11.3" text-anchor="end">10<tspan font-size="9.5" dy="-5.3">0</tspan></text>
<text x="294.00" y="571.20" font-size="11.3" text-anchor="end">10<tspan font-size="9.5" dy="-5.3">-10</tspan></text>
<clipPath id="c10"><rect x="556.5" y="450.5" width="202.0" height="166.0"/></clipPath>
<path d="M558.57,616.5 v-2.5 M558.57,450.5 v2.5 M565.46,616.5 v-2.5 M565.46,450.5 v2.5 M572.36,616.5 v-2.5 M572.36,450.5 v2.5 M579.25,616.5 v-2.5 M579.25,450.5 v2.5 M586.15,616.5 v-4.5 M586.15,450.5 v4.5 M593.04,616.5 v-2.5 M593.04,450.5 v2.5 M599.93,616.5 v-2.5 M599.93,450.5 v2.5 M606.83,616.5 v-2.5 M606.83,450.5 v2.5 M613.72,616.5 v-2.5 M613.72,450.5 v2.5 M620.62,616.5 v-4.5 M620.62,450.5 v4.5 M627.51,616.5 v-2.5 M627.51,450.5 v2.5 M634.40,616.5 v-2.5 M634.40,450.5 v2.5 M641.30,616.5 v-2.5 M641.30,450.5 v2.5 M648.19,616.5 v-2.5 M648.19,450.5 v2.5 M655.09,616.5 v-4.5 M655.09,450.5 v4.5 M661.98,616.5 v-2.5 M661.98,450.5 v2.5 M668.88,616.5 v-2.5 M668.88,450.5 v2.5 M675.77,616.5 v-2.5 M675.77,450.5 v2.5 M682.66,616.5 v-2.5 M682.66,450.5 v2.5 M689.56,616.5 v-4.5 M689.56,450.5 v4.5 M696.45,616.5 v-2.5 M696.45,450.5 v2.5 M703.35,616.5 v-2.5 M703.35,450.5 v2.5 M710.24,616.5 v-2.5 M710.24,450.5 v2.5 M717.13,616.5 v-2.5 M717.13,450.5 v2.5 M724.03,616.5 v-4.5 M724.03,450.5 v4.5 M730.92,616.5 v-2.5 M730.92,450.5 v2.5 M737.82,616.5 v-2.5 M737.82,450.5 v2.5 M744.71,616.5 v-2.5 M744.71,450.5 v2.5 M751.61,616.5 v-2.5 M751.61,450.5 v2.5 M556.5,474.40 h4.5 M758.5,474.40 h-4.5 M556.5,517.20 h2.5 M758.5,517.20 h-2.5 M556.5,560.00 h4.5 M758.5,560.00 h-4.5 M556.5,602.80 h2.5 M758.5,602.80 h-2.5" stroke="#333333" stroke-width="1" fill="none"/>
<rect x="556.5" y="450.5" width="202.0" height="166.0" fill="none" stroke="#333333" stroke-width="1"/>
<g clip-path="url(#c10)" fill="none" stroke-width="1.4" stroke-linejoin="round">
<path d="M556.50,452.00 L575.00,461.50 L758.50,462.70" stroke="#5ee000" stroke-dasharray="1.3 1.0"/>
<path d="M559.60,458.10 C561.70,458.10 563.80,458.10 565.90,458.10 C583.03,458.10 600.17,459.13 617.30,460.90 C623.43,461.53 629.57,464.73 635.70,466.40 C640.47,467.70 645.23,468.92 650.00,470.00 C662.27,472.79 674.53,473.64 686.80,477.40 C691.70,478.90 696.60,482.10 701.50,484.80 C704.57,486.49 707.63,490.30 710.70,490.30 C726.63,490.30 742.57,490.30 758.50,490.30" stroke="#e0d500" stroke-dasharray="5.2 3.8"/>
<path d="M559.00,473.70 L758.50,473.70" stroke="#a5e000"/>
<path d="M556.70,455.40 L565.90,475.60 L571.40,488.40 L580.00,500.00 L758.50,504.00" stroke="#00e0bd" stroke-dasharray="1.3 1.0"/>
<path d="M556.70,453.50 C564.67,456.51 572.63,459.58 580.60,462.70 C589.77,466.29 598.93,469.60 608.10,473.70 C614.23,476.45 620.37,479.33 626.50,482.90 C634.33,487.46 642.17,493.34 650.00,499.50 C654.90,503.35 659.80,504.54 664.70,512.30 C668.37,518.11 672.03,549.35 675.70,580.40" stroke="#00e076"/>
<path d="M556.50,452.00 L571.40,462.70 L595.30,475.60 L608.10,484.80 L617.30,494.00 L635.70,508.70 L650.00,521.50 L661.00,534.40 L672.10,541.70 L679.40,547.30 L690.40,556.50 L705.10,567.50 L714.30,573.00 L727.20,584.00 L738.20,595.10 L745.60,606.10 L752.90,613.40" stroke="#00bde0" stroke-dasharray="5 1.1 1.3 1.1"/>
<path d="M556.70,455.40 L567.70,471.90 L580.60,474.70 L598.90,483.80 L617.30,486.60 L672.10,487.50 L686.80,495.80 L701.50,504.10 L758.50,504.10" stroke="#e0008e" stroke-dasharray="1.3 1.0"/>
<path d="M556.50,452.00 L560.40,495.80 L564.00,499.50 L582.40,500.40 L587.90,503.10 L758.50,504.10" stroke="#18e000" stroke-dasharray="5 1.1 1.3 1.1"/>
<path d="M556.70,455.40 L564.00,494.00 L611.80,497.60 L617.30,505.00 L758.50,505.00" stroke="#e000d5"/>
<path d="M556.70,455.40 L567.70,499.50 L571.40,521.50 L576.90,558.30 L582.40,600.60" stroke="#e03a1e" stroke-dasharray="1.3 1.0"/>
<path d="M556.50,452.00 L562.90,491.20 L642.30,494.00 L650.00,505.00 L659.20,534.40 L668.40,558.30 L673.90,580.40 L681.30,613.40" stroke="#e00047" stroke-dasharray="5 1.1 1.3 1.1"/>
<path d="M556.50,452.00 L562.90,489.50 L632.40,499.40 L650.00,503.10 L657.40,528.90 L668.40,567.50 L675.70,584.00 L683.10,589.50 L690.40,595.10 L727.20,595.10 L732.70,601.50 L758.50,602.40" stroke="#e08e00" stroke-dasharray="5 1.1 1.3 1.1"/>
<path d="M556.50,452.00 L563.00,496.70 L758.50,496.70" stroke="#0076e0" stroke-dasharray="5.2 3.8"/>
<path d="M556.50,452.00 L563.00,496.70 L758.50,496.70" stroke="#1800e0" stroke-dasharray="1.3 1.0"/>
<path d="M556.50,452.00 L563.00,491.00 L758.50,491.00" stroke="#a500e0" stroke-dasharray="5.2 3.8"/>
<path d="M556.50,452.00 L563.00,493.00 L758.50,493.00" stroke="#5e00e0" stroke-dasharray="5 1.1 1.3 1.1"/>
<path d="M556.50,452.00 L563.00,489.40 L758.50,489.40" stroke="#002fe0" stroke-dasharray="5 1.1 1.3 1.1"/>
<path d="M560.40,499.50 L562.20,528.90 L571.40,545.40 L580.60,549.10 L595.30,562.00 L608.10,569.30 L617.30,574.80 L626.50,585.90 L639.40,593.20 L645.60,610.20" stroke="#00e02f" stroke-dasharray="5.2 3.8"/>
<path d="M556.70,481.10 C557.93,489.76 559.17,499.55 560.40,503.10 C564.07,513.65 567.73,518.54 571.40,521.50 C577.53,526.45 583.67,527.96 589.80,530.70 C595.90,533.43 602.00,535.66 608.10,538.10 C614.23,540.56 620.37,543.71 626.50,545.40 C630.80,546.59 635.10,546.65 639.40,548.20 C642.93,549.48 646.47,555.15 650.00,558.30 C653.67,561.57 657.33,563.45 661.00,567.50 C664.07,570.89 667.13,576.18 670.20,582.10" stroke="#e00000"/>
</g>
<text x="586.15" y="632.30" font-size="11" text-anchor="middle" >0.5</text>
<text x="620.62" y="632.30" font-size="11" text-anchor="middle" >1</text>
<text x="655.09" y="632.30" font-size="11" text-anchor="middle" >1.5</text>
<text x="689.56" y="632.30" font-size="11" text-anchor="middle" >2</text>
<text x="724.03" y="632.30" font-size="11" text-anchor="middle" >2.5</text>
<text x="758.50" y="632.30" font-size="11" text-anchor="middle" >3</text>
<text x="657.50" y="646.30" font-size="11.5" text-anchor="middle" >FEs</text>
<g><text x="736.10" y="651.70" font-size="15" font-weight="normal" text-anchor="middle">&#215;</text><text x="741.30" y="649.90" font-size="11">10</text><text x="753.30" y="644.30" font-size="8.8">5</text></g>
<text x="657.50" y="447.70" font-size="11.2" text-anchor="middle" >F11</text>
<text x="519.5" y="533.5" font-size="11.6" text-anchor="middle" transform="rotate(-90 519.5 533.5)" dy="4">Best Score</text>
<text x="552.00" y="480.40" font-size="11.3" text-anchor="end">10<tspan font-size="9.5" dy="-5.3">0</tspan></text>
<text x="552.00" y="566.00" font-size="11.3" text-anchor="end">10<tspan font-size="9.5" dy="-5.3">-10</tspan></text>
<clipPath id="c11"><rect x="42.5" y="670.5" width="203.0" height="166.0"/></clipPath>
<path d="M44.58,836.5 v-2.5 M44.58,670.5 v2.5 M51.51,836.5 v-2.5 M51.51,670.5 v2.5 M58.44,836.5 v-2.5 M58.44,670.5 v2.5 M65.36,836.5 v-2.5 M65.36,670.5 v2.5 M72.29,836.5 v-4.5 M72.29,670.5 v4.5 M79.22,836.5 v-2.5 M79.22,670.5 v2.5 M86.15,836.5 v-2.5 M86.15,670.5 v2.5 M93.08,836.5 v-2.5 M93.08,670.5 v2.5 M100.01,836.5 v-2.5 M100.01,670.5 v2.5 M106.93,836.5 v-4.5 M106.93,670.5 v4.5 M113.86,836.5 v-2.5 M113.86,670.5 v2.5 M120.79,836.5 v-2.5 M120.79,670.5 v2.5 M127.72,836.5 v-2.5 M127.72,670.5 v2.5 M134.65,836.5 v-2.5 M134.65,670.5 v2.5 M141.58,836.5 v-4.5 M141.58,670.5 v4.5 M148.50,836.5 v-2.5 M148.50,670.5 v2.5 M155.43,836.5 v-2.5 M155.43,670.5 v2.5 M162.36,836.5 v-2.5 M162.36,670.5 v2.5 M169.29,836.5 v-2.5 M169.29,670.5 v2.5 M176.22,836.5 v-4.5 M176.22,670.5 v4.5 M183.15,836.5 v-2.5 M183.15,670.5 v2.5 M190.07,836.5 v-2.5 M190.07,670.5 v2.5 M197.00,836.5 v-2.5 M197.00,670.5 v2.5 M203.93,836.5 v-2.5 M203.93,670.5 v2.5 M210.86,836.5 v-4.5 M210.86,670.5 v4.5 M217.79,836.5 v-2.5 M217.79,670.5 v2.5 M224.72,836.5 v-2.5 M224.72,670.5 v2.5 M231.64,836.5 v-2.5 M231.64,670.5 v2.5 M238.57,836.5 v-2.5 M238.57,670.5 v2.5 M42.5,690.25 h2.5 M245.5,690.25 h-2.5 M42.5,710.20 h4.5 M245.5,710.20 h-4.5 M42.5,730.15 h2.5 M245.5,730.15 h-2.5 M42.5,750.10 h2.5 M245.5,750.10 h-2.5 M42.5,770.05 h2.5 M245.5,770.05 h-2.5 M42.5,790.00 h4.5 M245.5,790.00 h-4.5 M42.5,809.95 h2.5 M245.5,809.95 h-2.5 M42.5,829.90 h2.5 M245.5,829.90 h-2.5" stroke="#333333" stroke-width="1" fill="none"/>
<rect x="42.5" y="670.5" width="203.0" height="166.0" fill="none" stroke="#333333" stroke-width="1"/>
<g clip-path="url(#c11)" fill="none" stroke-width="1.4" stroke-linejoin="round">
<path d="M42.70,676.50 C46.10,680.32 49.50,684.97 52.90,685.50 C60.83,686.75 68.77,686.70 76.70,687.30 C82.83,687.77 88.97,687.92 95.10,688.70 C100.07,689.33 105.03,691.35 110.00,693.70 C112.33,694.81 114.67,697.08 117.00,698.60 C121.60,701.60 126.20,706.75 130.80,706.90 C169.03,708.12 207.27,708.30 245.50,708.30" stroke="#e0d500" stroke-dasharray="5.2 3.8"/>
<path d="M42.70,673.00 L49.20,708.00 L245.50,708.40" stroke="#a5e000"/>
<path d="M42.70,676.00 L47.60,709.70 L245.50,711.70" stroke="#0076e0" stroke-dasharray="5.2 3.8"/>
<path d="M43.70,677.20 C46.77,683.65 49.83,689.80 52.90,695.60 C55.97,701.40 59.03,712.09 62.10,712.10 C123.23,712.29 184.37,712.30 245.50,712.30" stroke="#5ee000" stroke-dasharray="1.3 1.0"/>
<path d="M42.70,676.00 L47.60,712.30 L59.00,715.60 L245.50,716.50" stroke="#002fe0" stroke-dasharray="5 1.1 1.3 1.1"/>
<path d="M42.70,676.00 L47.60,713.00 L59.00,716.00 L245.50,717.30" stroke="#1800e0" stroke-dasharray="1.3 1.0"/>
<path d="M42.70,676.00 L47.60,713.50 L59.00,716.50 L245.50,718.00" stroke="#5e00e0" stroke-dasharray="5 1.1 1.3 1.1"/>
<path d="M42.70,676.00 L47.60,714.00 L59.00,717.00 L245.50,718.50" stroke="#a500e0" stroke-dasharray="5.2 3.8"/>
<path d="M42.70,676.00 C44.87,680.37 47.03,684.46 49.20,686.40 C52.27,689.14 55.33,689.81 58.40,691.90 C61.47,693.99 64.53,696.66 67.60,699.20 C69.73,700.96 71.87,704.08 74.00,704.70 C77.97,705.85 81.93,706.11 85.90,706.60 C93.93,707.59 101.97,707.06 110.00,708.90 C111.17,709.17 112.33,712.36 113.50,714.00 C117.17,719.15 120.83,722.85 124.50,728.70 C128.20,734.60 131.90,742.38 135.60,750.70 C137.07,754.00 138.53,757.98 140.00,761.70 C143.07,769.48 146.13,777.25 149.20,785.50 C152.27,793.75 155.33,801.77 158.40,811.30 C160.83,818.86 163.27,836.50 165.70,836.50 C192.30,836.50 218.90,836.50 245.50,836.50" stroke="#00e076"/>
<path d="M42.70,673.00 L50.00,700.00 L60.00,711.00 L245.50,712.00" stroke="#00e0bd" stroke-dasharray="1.3 1.0"/>
<path d="M42.70,675.00 C44.87,678.06 47.03,680.95 49.20,683.60 C51.63,686.58 54.07,688.58 56.50,691.90 C58.67,694.86 60.83,701.01 63.00,702.90 C67.57,706.88 72.13,707.59 76.70,710.30 C81.30,713.03 85.90,716.18 90.50,719.40 C97.00,723.96 103.50,729.25 110.00,734.10 C121.67,742.81 133.33,751.04 145.00,759.90 C151.33,764.71 157.67,769.72 164.00,774.70 C174.97,783.33 185.93,790.82 196.90,800.90 C207.83,810.94 218.77,823.06 229.70,836.50" stroke="#00bde0" stroke-dasharray="5 1.1 1.3 1.1"/>
<path d="M42.70,696.00 C44.87,706.10 47.03,716.33 49.20,718.90 C52.47,722.77 55.73,724.99 59.00,725.50 C83.07,729.24 107.13,726.75 131.20,730.40 C133.40,730.73 135.60,733.65 137.80,733.70 C173.70,734.53 209.60,734.60 245.50,734.60" stroke="#e000d5"/>
<path d="M42.70,706.00 L47.60,728.70 L65.60,735.30 L245.50,738.60" stroke="#00e02f" stroke-dasharray="5.2 3.8"/>
<path d="M43.70,704.80 C47.37,713.79 51.03,721.26 54.70,726.80 C57.17,730.53 59.63,735.56 62.10,736.00 C70.07,737.41 78.03,737.41 86.00,737.90 C104.00,739.01 122.00,738.95 140.00,740.50 C149.17,741.29 158.33,744.24 167.50,747.00 C173.63,748.85 179.77,752.16 185.90,754.30 C193.87,757.09 201.83,758.79 209.80,761.70 C214.07,763.26 218.33,765.35 222.60,767.20 C230.23,770.52 237.87,773.88 245.50,777.30" stroke="#e00047" stroke-dasharray="5 1.1 1.3 1.1"/>
<path d="M43.70,704.80 C46.13,706.92 48.57,709.40 51.00,710.30 C59.60,713.49 68.20,715.12 76.80,715.80 C97.87,717.45 118.93,716.97 140.00,718.50 C152.23,719.39 164.47,721.47 176.70,724.90 C182.83,726.62 188.97,731.63 195.10,735.00 C201.23,738.37 207.37,741.57 213.50,745.10 C219.60,748.62 225.70,751.40 231.80,756.20 C236.37,759.80 240.93,765.14 245.50,771.00" stroke="#e0008e" stroke-dasharray="1.3 1.0"/>
<path d="M42.70,700.00 C44.23,705.08 45.77,710.16 47.30,714.00 C51.60,724.77 55.90,731.50 60.20,740.00 C62.67,744.88 65.13,748.65 67.60,754.40 C69.43,758.67 71.27,770.00 73.10,770.00 C130.57,770.00 188.03,770.00 245.50,770.00" stroke="#e08e00" stroke-dasharray="5 1.1 1.3 1.1"/>
<path d="M42.70,700.00 C43.33,702.94 43.97,706.08 44.60,708.40 C48.27,721.84 51.93,731.91 55.60,740.00 C57.77,744.78 59.93,747.05 62.10,752.00 C67.00,763.19 71.90,784.41 76.80,800.40 C80.47,812.36 84.13,836.00 87.80,836.00 C140.37,836.00 192.93,836.00 245.50,836.00" stroke="#e03a1e" stroke-dasharray="1.3 1.0"/>
<path d="M43.70,703.80 C44.93,713.98 46.17,726.98 47.40,728.70 C51.07,733.83 54.73,734.62 58.40,736.00 C64.53,738.32 70.67,739.51 76.80,740.60 C85.97,742.24 95.13,743.24 104.30,744.30 C116.20,745.68 128.10,746.72 140.00,747.90 C149.17,748.81 158.33,749.18 167.50,750.60 C174.87,751.74 182.23,754.03 189.60,758.00 C192.67,759.65 195.73,762.56 198.80,767.20 C200.63,769.97 202.47,775.12 204.30,781.90 C206.13,788.68 207.97,804.06 209.80,814.90 C211.03,822.19 212.27,829.38 213.50,836.50" stroke="#e00000"/>
</g>
<text x="72.29" y="852.30" font-size="11" text-anchor="middle" >0.5</text>
<text x="106.93" y="852.30" font-size="11" text-anchor="middle" >1</text>
<text x="141.58" y="852.30" font-size="11" text-anchor="middle" >1.5</text>
<text x="176.22" y="852.30" font-size="11" text-anchor="middle" >2</text>
<text x="210.86" y="852.30" font-size="11" text-anchor="middle" >2.5</text>
<text x="245.50" y="852.30" font-size="11" text-anchor="middle" >3</text>
<text x="144.00" y="866.30" font-size="11.5" text-anchor="middle" >FEs</text>
<g><text x="223.10" y="871.70" font-size="15" font-weight="normal" text-anchor="middle">&#215;</text><text x="228.30" y="869.90" font-size="11">10</text><text x="240.30" y="864.30" font-size="8.8">5</text></g>
<text x="144.00" y="667.70" font-size="11.2" text-anchor="middle" >F12</text>
<text x="5.2" y="753.5" font-size="11.6" text-anchor="middle" transform="rotate(-90 5.2 753.5)" dy="4">Best Score</text>
<text x="38.00" y="716.20" font-size="11.3" text-anchor="end">10<tspan font-size="9.5" dy="-5.3">0</tspan></text>
<text x="38.00" y="796.00" font-size="11.3" text-anchor="end">10<tspan font-size="9.5" dy="-5.3">-20</tspan></text>
<clipPath id="c12"><rect x="298.5" y="670.5" width="203.0" height="166.0"/></clipPath>
<path d="M300.58,836.5 v-2.5 M300.58,670.5 v2.5 M307.51,836.5 v-2.5 M307.51,670.5 v2.5 M314.44,836.5 v-2.5 M314.44,670.5 v2.5 M321.36,836.5 v-2.5 M321.36,670.5 v2.5 M328.29,836.5 v-4.5 M328.29,670.5 v4.5 M335.22,836.5 v-2.5 M335.22,670.5 v2.5 M342.15,836.5 v-2.5 M342.15,670.5 v2.5 M349.08,836.5 v-2.5 M349.08,670.5 v2.5 M356.01,836.5 v-2.5 M356.01,670.5 v2.5 M362.93,836.5 v-4.5 M362.93,670.5 v4.5 M369.86,836.5 v-2.5 M369.86,670.5 v2.5 M376.79,836.5 v-2.5 M376.79,670.5 v2.5 M383.72,836.5 v-2.5 M383.72,670.5 v2.5 M390.65,836.5 v-2.5 M390.65,670.5 v2.5 M397.58,836.5 v-4.5 M397.58,670.5 v4.5 M404.50,836.5 v-2.5 M404.50,670.5 v2.5 M411.43,836.5 v-2.5 M411.43,670.5 v2.5 M418.36,836.5 v-2.5 M418.36,670.5 v2.5 M425.29,836.5 v-2.5 M425.29,670.5 v2.5 M432.22,836.5 v-4.5 M432.22,670.5 v4.5 M439.15,836.5 v-2.5 M439.15,670.5 v2.5 M446.07,836.5 v-2.5 M446.07,670.5 v2.5 M453.00,836.5 v-2.5 M453.00,670.5 v2.5 M459.93,836.5 v-2.5 M459.93,670.5 v2.5 M466.86,836.5 v-4.5 M466.86,670.5 v4.5 M473.79,836.5 v-2.5 M473.79,670.5 v2.5 M480.72,836.5 v-2.5 M480.72,670.5 v2.5 M487.64,836.5 v-2.5 M487.64,670.5 v2.5 M494.57,836.5 v-2.5 M494.57,670.5 v2.5 M298.5,690.25 h2.5 M501.5,690.25 h-2.5 M298.5,710.20 h4.5 M501.5,710.20 h-4.5 M298.5,730.15 h2.5 M501.5,730.15 h-2.5 M298.5,750.10 h2.5 M501.5,750.10 h-2.5 M298.5,770.05 h2.5 M501.5,770.05 h-2.5 M298.5,790.00 h4.5 M501.5,790.00 h-4.5 M298.5,809.95 h2.5 M501.5,809.95 h-2.5 M298.5,829.90 h2.5 M501.5,829.90 h-2.5" stroke="#333333" stroke-width="1" fill="none"/>
<rect x="298.5" y="670.5" width="203.0" height="166.0" fill="none" stroke="#333333" stroke-width="1"/>
<g clip-path="url(#c12)" fill="none" stroke-width="1.4" stroke-linejoin="round">
<path d="M299.30,673.00 L306.00,682.70 L501.50,682.70" stroke="#5ee000" stroke-dasharray="1.3 1.0"/>
<path d="M301.00,682.80 C314.33,682.70 327.67,682.70 341.00,682.70 C347.10,682.70 353.20,685.91 359.30,688.20 C365.43,690.50 371.57,694.62 377.70,697.40 C385.13,700.77 392.57,704.22 400.00,706.60 C411.80,710.38 423.60,714.54 435.40,715.60 C457.43,717.57 479.47,718.90 501.50,718.90" stroke="#e0d500" stroke-dasharray="5.2 3.8"/>
<path d="M301.00,705.70 L501.50,705.70" stroke="#a5e000"/>
<path d="M298.70,675.40 C303.60,678.47 308.50,681.50 313.40,684.50 C319.53,688.25 325.67,691.83 331.80,695.60 C336.70,698.61 341.60,702.91 346.50,704.80 C350.77,706.44 355.03,706.57 359.30,708.40 C362.37,709.71 365.43,712.67 368.50,715.80 C371.57,718.93 374.63,723.87 377.70,728.70 C380.77,733.53 383.83,739.29 386.90,745.20 C391.27,753.62 395.63,762.33 400.00,772.80 C404.17,782.79 408.33,794.43 412.50,807.50 C415.23,816.07 417.97,836.50 420.70,836.50 C447.63,836.50 474.57,836.50 501.50,836.50" stroke="#00e076"/>
<path d="M298.70,675.40 C303.60,676.51 308.50,681.26 313.40,686.40 C316.47,689.62 319.53,697.85 322.60,701.10 C325.67,704.35 328.73,706.99 331.80,708.40 C337.90,711.20 344.00,711.23 350.10,713.90 C356.23,716.58 362.37,723.73 368.50,728.70 C379.00,737.20 389.50,746.40 400.00,754.40 C406.33,759.22 412.67,763.31 419.00,768.10 C429.93,776.36 440.87,784.05 451.80,794.40 C463.87,805.82 475.93,820.18 488.00,836.50" stroke="#00bde0" stroke-dasharray="5 1.1 1.3 1.1"/>
<path d="M299.30,680.00 L302.50,710.70 L501.50,712.30" stroke="#0076e0" stroke-dasharray="5.2 3.8"/>
<path d="M299.30,680.00 L303.00,712.00 L501.50,713.50" stroke="#5e00e0" stroke-dasharray="5 1.1 1.3 1.1"/>
<path d="M299.30,680.00 C300.53,690.52 301.77,710.95 303.00,711.00 C369.17,713.94 435.33,714.00 501.50,714.00" stroke="#002fe0" stroke-dasharray="5 1.1 1.3 1.1"/>
<path d="M299.30,682.80 L307.50,707.40 L386.20,712.30 L419.00,715.60 L501.50,722.20" stroke="#e0008e" stroke-dasharray="1.3 1.0"/>
<path d="M299.30,682.80 L306.00,714.90 L501.50,717.60" stroke="#00e0bd" stroke-dasharray="1.3 1.0"/>
<path d="M299.30,689.40 L302.40,716.70 L313.40,720.40 L400.00,722.20 L501.50,722.80" stroke="#e000d5"/>
<path d="M299.30,689.40 L304.00,724.00 L501.50,724.00" stroke="#a500e0" stroke-dasharray="5.2 3.8"/>
<path d="M299.30,709.00 L302.40,726.00 L313.40,729.50 L337.00,733.00 L501.50,736.00" stroke="#00e02f" stroke-dasharray="5.2 3.8"/>
<path d="M298.70,701.10 C300.53,706.37 302.37,713.72 304.20,714.90 C313.40,720.83 322.60,718.07 331.80,723.10 C334.23,724.43 336.67,731.93 339.10,732.30 C359.40,735.39 379.70,734.17 400.00,736.00 C406.33,736.57 412.67,737.45 419.00,738.60 C429.93,740.59 440.87,744.32 451.80,748.40 C462.77,752.50 473.73,760.36 484.70,764.80 C490.30,767.07 495.90,769.01 501.50,770.70" stroke="#e00047" stroke-dasharray="5 1.1 1.3 1.1"/>
<path d="M298.70,677.20 L306.00,704.80 L317.10,741.50 L328.10,758.10 L335.40,770.90 L501.50,770.90" stroke="#e08e00" stroke-dasharray="5 1.1 1.3 1.1"/>
<path d="M298.70,679.00 C303.60,703.70 308.50,726.45 313.40,745.20 C319.53,768.67 325.67,787.93 331.80,805.80 C335.47,816.48 339.13,834.97 342.80,835.00 C395.70,835.47 448.60,835.50 501.50,835.50" stroke="#e03a1e" stroke-dasharray="1.3 1.0"/>
<path d="M299.30,679.00 C300.93,697.51 302.57,715.78 304.20,725.00 C307.27,742.32 310.33,749.63 313.40,759.90 C316.47,770.17 319.53,778.32 322.60,787.50 C325.67,796.68 328.73,806.35 331.80,815.00 C333.63,820.17 335.47,827.13 337.30,829.80 C339.13,832.47 340.97,835.30 342.80,835.30 C395.70,835.30 448.60,835.30 501.50,835.30" stroke="#1800e0" stroke-dasharray="1.3 1.0"/>
<path d="M299.30,679.00 C300.70,698.38 302.10,718.05 303.50,727.00 C306.33,745.11 309.17,751.94 312.00,762.00 C315.00,772.65 318.00,780.84 321.00,790.00 C324.00,799.16 327.00,808.79 330.00,817.00 C331.83,822.02 333.67,828.73 335.50,831.00 C337.33,833.27 339.17,835.49 341.00,835.50 C394.50,835.79 448.00,835.80 501.50,835.80" stroke="#002fe0" stroke-dasharray="5 1.1 1.3 1.1"/>
<path d="M298.70,702.90 C299.93,711.12 301.17,721.40 302.40,723.10 C306.07,728.14 309.73,728.37 313.40,730.50 C319.53,734.06 325.67,739.10 331.80,739.70 C344.03,740.90 356.27,740.84 368.50,741.50 C379.00,742.07 389.50,742.31 400.00,743.40 C406.33,744.06 412.67,746.63 419.00,748.40 C429.93,751.46 440.87,751.57 451.80,758.30 C454.53,759.98 457.27,765.94 460.00,774.70 C461.67,780.04 463.33,794.85 465.00,807.50 C466.10,815.85 467.20,825.86 468.30,836.50" stroke="#e00000"/>
</g>
<text x="328.29" y="852.30" font-size="11" text-anchor="middle" >0.5</text>
<text x="362.93" y="852.30" font-size="11" text-anchor="middle" >1</text>
<text x="397.58" y="852.30" font-size="11" text-anchor="middle" >1.5</text>
<text x="432.22" y="852.30" font-size="11" text-anchor="middle" >2</text>
<text x="466.86" y="852.30" font-size="11" text-anchor="middle" >2.5</text>
<text x="501.50" y="852.30" font-size="11" text-anchor="middle" >3</text>
<text x="400.00" y="866.30" font-size="11.5" text-anchor="middle" >FEs</text>
<g><text x="479.10" y="871.70" font-size="15" font-weight="normal" text-anchor="middle">&#215;</text><text x="484.30" y="869.90" font-size="11">10</text><text x="496.30" y="864.30" font-size="8.8">5</text></g>
<text x="400.00" y="667.70" font-size="11.2" text-anchor="middle" >F13</text>
<text x="260.8" y="753.5" font-size="11.6" text-anchor="middle" transform="rotate(-90 260.8 753.5)" dy="4">Best Score</text>
<text x="294.00" y="716.20" font-size="11.3" text-anchor="end">10<tspan font-size="9.5" dy="-5.3">0</tspan></text>
<text x="294.00" y="796.00" font-size="11.3" text-anchor="end">10<tspan font-size="9.5" dy="-5.3">-20</tspan></text>
<clipPath id="c13"><rect x="560.5" y="670.5" width="198.0" height="166.0"/></clipPath>
<path d="M562.53,836.5 v-2.5 M562.53,670.5 v2.5 M569.28,836.5 v-2.5 M569.28,670.5 v2.5 M576.04,836.5 v-2.5 M576.04,670.5 v2.5 M582.80,836.5 v-2.5 M582.80,670.5 v2.5 M589.56,836.5 v-4.5 M589.56,670.5 v4.5 M596.32,836.5 v-2.5 M596.32,670.5 v2.5 M603.07,836.5 v-2.5 M603.07,670.5 v2.5 M609.83,836.5 v-2.5 M609.83,670.5 v2.5 M616.59,836.5 v-2.5 M616.59,670.5 v2.5 M623.35,836.5 v-4.5 M623.35,670.5 v4.5 M630.10,836.5 v-2.5 M630.10,670.5 v2.5 M636.86,836.5 v-2.5 M636.86,670.5 v2.5 M643.62,836.5 v-2.5 M643.62,670.5 v2.5 M650.38,836.5 v-2.5 M650.38,670.5 v2.5 M657.13,836.5 v-4.5 M657.13,670.5 v4.5 M663.89,836.5 v-2.5 M663.89,670.5 v2.5 M670.65,836.5 v-2.5 M670.65,670.5 v2.5 M677.41,836.5 v-2.5 M677.41,670.5 v2.5 M684.17,836.5 v-2.5 M684.17,670.5 v2.5 M690.92,836.5 v-4.5 M690.92,670.5 v4.5 M697.68,836.5 v-2.5 M697.68,670.5 v2.5 M704.44,836.5 v-2.5 M704.44,670.5 v2.5 M711.20,836.5 v-2.5 M711.20,670.5 v2.5 M717.95,836.5 v-2.5 M717.95,670.5 v2.5 M724.71,836.5 v-4.5 M724.71,670.5 v4.5 M731.47,836.5 v-2.5 M731.47,670.5 v2.5 M738.23,836.5 v-2.5 M738.23,670.5 v2.5 M744.98,836.5 v-2.5 M744.98,670.5 v2.5 M751.74,836.5 v-2.5 M751.74,670.5 v2.5 M560.5,681.90 h2.5 M758.5,681.90 h-2.5 M560.5,697.25 h2.5 M758.5,697.25 h-2.5 M560.5,712.60 h4.5 M758.5,712.60 h-4.5 M560.5,727.95 h2.5 M758.5,727.95 h-2.5 M560.5,743.30 h2.5 M758.5,743.30 h-2.5 M560.5,758.65 h2.5 M758.5,758.65 h-2.5 M560.5,774.00 h4.5 M758.5,774.00 h-4.5 M560.5,789.35 h2.5 M758.5,789.35 h-2.5 M560.5,804.70 h2.5 M758.5,804.70 h-2.5 M560.5,820.05 h2.5 M758.5,820.05 h-2.5 M560.5,835.40 h4.5 M758.5,835.40 h-4.5" stroke="#333333" stroke-width="1" fill="none"/>
<rect x="560.5" y="670.5" width="198.0" height="166.0" fill="none" stroke="#333333" stroke-width="1"/>
<g clip-path="url(#c13)" fill="none" stroke-width="1.4" stroke-linejoin="round">
<path d="M561.30,670.50 L564.60,836.40" stroke="#0076e0" stroke-dasharray="5.2 3.8"/>
<path d="M560.30,836.00 L758.80,836.00" stroke="#00e02f" stroke-dasharray="5.2 3.8"/>
<path d="M560.30,836.00 L758.80,836.00" stroke="#e00000"/>
<path d="M560.30,836.20 L758.80,836.20" stroke="#e00047" stroke-dasharray="5 1.1 1.3 1.1"/>
<path d="M560.30,836.20 L758.80,836.20" stroke="#e0008e" stroke-dasharray="1.3 1.0"/>
</g>
<text x="589.56" y="852.30" font-size="11" text-anchor="middle" >0.5</text>
<text x="623.35" y="852.30" font-size="11" text-anchor="middle" >1</text>
<text x="657.13" y="852.30" font-size="11" text-anchor="middle" >1.5</text>
<text x="690.92" y="852.30" font-size="11" text-anchor="middle" >2</text>
<text x="724.71" y="852.30" font-size="11" text-anchor="middle" >2.5</text>
<text x="758.50" y="852.30" font-size="11" text-anchor="middle" >3</text>
<text x="659.50" y="866.30" font-size="11.5" text-anchor="middle" >FEs</text>
<g><text x="736.10" y="871.70" font-size="15" font-weight="normal" text-anchor="middle">&#215;</text><text x="741.30" y="869.90" font-size="11">10</text><text x="753.30" y="864.30" font-size="8.8">5</text></g>
<text x="659.50" y="667.70" font-size="11.2" text-anchor="middle" >F19</text>
<text x="556.00" y="718.60" font-size="11.3" text-anchor="end">-10<tspan font-size="9.5" dy="-5.3">-40</tspan></text>
<text x="556.00" y="780.00" font-size="11.3" text-anchor="end">-10<tspan font-size="9.5" dy="-5.3">-20</tspan></text>
<text x="556.00" y="841.40" font-size="11.3" text-anchor="end">-10<tspan font-size="9.5" dy="-5.3">0</tspan></text>
<rect x="612.5" y="736.5" width="74" height="59" fill="#fff" stroke="#3a3a3a" stroke-width="1"/>
<path d="M612.5,742 H686.5 M612.5,747.1 H686.5 M612.5,752.2 H686.5 M612.5,762.5 H686.5 M612.5,767.6 H686.5 M612.5,772.7 H686.5 M612.5,784.4 H686.5 M612.5,789.5 H686.5 M621.5,736.5 V795.5 M675.8,736.5 V795.5" stroke="#c8c8c8" stroke-width="0.8" stroke-dasharray="1.2 1.2" fill="none"/>
<path d="M621.5,795.5 v-2.5 M631,795.5 v-1.5 M640.5,795.5 v-1.5 M650,795.5 v-1.5 M659.5,795.5 v-1.5 M669,795.5 v-1.5 M675.8,795.5 v-2.5 M621.5,736.5 v2.5 M631,736.5 v1.5 M640.5,736.5 v1.5 M650,736.5 v1.5 M659.5,736.5 v1.5 M669,736.5 v1.5 M675.8,736.5 v2.5 M686.5,742 h-1.5 M686.5,747.1 h-1.5 M686.5,752.2 h-1.5 M686.5,757.5 h-2.5 M686.5,762.5 h-1.5 M686.5,767.6 h-1.5 M686.5,772.7 h-1.5 M686.5,779.3 h-2.5 M686.5,784.4 h-1.5 M686.5,789.5 h-1.5 M612.5,742 h1.5 M612.5,747.1 h1.5 M612.5,752.2 h1.5 M612.5,762.5 h1.5 M612.5,767.6 h1.5 M612.5,772.7 h1.5 M612.5,784.4 h1.5 M612.5,789.5 h1.5" stroke="#444" stroke-width="0.8" fill="none"/>
<path d="M612.6,757.5 H676" stroke="#00e030" stroke-width="1.4" stroke-dasharray="5.2 3.8" fill="none"/>
<path d="M612.6,779.3 H676" stroke="#e00048" stroke-width="1.4" fill="none"/>
<rect x="612.5" y="736.5" width="74" height="59" fill="none" stroke="#444" stroke-width="1.2"/>
<text x="608.2" y="743.7" font-size="11.7" text-anchor="end">-3.8627</text>
<text x="608.2" y="768.7" font-size="11.7" text-anchor="end">-3.86275</text>
<text x="608.2" y="793.7" font-size="11.7" text-anchor="end">-3.8628</text>
<text x="621.5" y="810.8" font-size="11.5" text-anchor="middle">2.9999995</text>
<text x="675.8" y="810.8" font-size="11.5" text-anchor="middle">3</text>
<text x="664.3" y="830.5" font-size="16" font-weight="normal" text-anchor="middle">&#215;</text><text x="669.6" y="828.6" font-size="12.3">10</text><text x="682.2" y="822.3" font-size="9.5">5</text>
<path d="M687,794.7 L743,831.3" stroke="#222" stroke-width="0.9" fill="none"/>
<path d="M747.8,834.5 L738.6,832.7 L742.6,831 L742.9,826.4 Z" fill="#111"/>

<path d="M208.2,883.3 H235.6" stroke="#e00000" stroke-width="1.5999999999999999" fill="none"/>
<text x="238.8" y="887.5" font-size="11.5">EHHO</text>
<path d="M208.2,899.0 H235.6" stroke="#e03a1e" stroke-width="1.5999999999999999" stroke-dasharray="1.3 1.0" fill="none"/>
<text x="238.8" y="903.2" font-size="11.5">DE</text>
<path d="M208.2,914.7 H235.6" stroke="#e08e00" stroke-width="1.5999999999999999" stroke-dasharray="5 1.1 1.3 1.1" fill="none"/>
<text x="238.8" y="918.9000000000001" font-size="11.5">ABC</text>
<path d="M208.2,930.4 H235.6" stroke="#e0d500" stroke-width="1.5999999999999999" stroke-dasharray="5.2 3.8" fill="none"/>
<text x="238.8" y="934.6" font-size="11.5">SSA</text>
<path d="M278.7,883.3 H306.3" stroke="#a5e000" stroke-width="1.5999999999999999" fill="none"/>
<text x="308.4" y="887.5" font-size="11.5">PSO</text>
<path d="M278.7,899.0 H306.3" stroke="#5ee000" stroke-width="1.5999999999999999" stroke-dasharray="1.3 1.0" fill="none"/>
<text x="308.4" y="903.2" font-size="11.5">MFO</text>
<path d="M278.7,914.7 H306.3" stroke="#18e000" stroke-width="1.5999999999999999" stroke-dasharray="5 1.1 1.3 1.1" fill="none"/>
<text x="308.4" y="918.9000000000001" font-size="11.5">GWO</text>
<path d="M278.7,930.4 H306.3" stroke="#00e02f" stroke-width="1.5999999999999999" stroke-dasharray="5.2 3.8" fill="none"/>
<text x="308.4" y="934.6" font-size="11.5">HHO</text>
<path d="M343.8,883.3 H370.9" stroke="#00e076" stroke-width="1.5999999999999999" fill="none"/>
<text x="373.2" y="887.5" font-size="11.5">BLPSO</text>
<path d="M343.8,899.0 H370.9" stroke="#00e0bd" stroke-width="1.5999999999999999" stroke-dasharray="1.3 1.0" fill="none"/>
<text x="373.2" y="903.2" font-size="11.5">ALCPSO</text>
<path d="M343.8,914.7 H370.9" stroke="#00bde0" stroke-width="1.5999999999999999" stroke-dasharray="5 1.1 1.3 1.1" fill="none"/>
<text x="373.2" y="918.9000000000001" font-size="11.5">CLPSO</text>
<path d="M343.8,930.4 H370.9" stroke="#0076e0" stroke-width="1.5999999999999999" stroke-dasharray="5.2 3.8" fill="none"/>
<text x="373.2" y="934.6" font-size="11.5">LSHADE</text>
<path d="M425.5,883.3 H452.7" stroke="#002fe0" stroke-width="1.5999999999999999" stroke-dasharray="5 1.1 1.3 1.1" fill="none"/>
<text x="455.1" y="887.5" font-size="11.5">JDE</text>
<path d="M425.5,899.0 H452.7" stroke="#1800e0" stroke-width="1.5999999999999999" stroke-dasharray="1.3 1.0" fill="none"/>
<text x="455.1" y="903.2" font-size="11.5">JADE</text>
<path d="M425.5,914.7 H452.7" stroke="#5e00e0" stroke-width="1.5999999999999999" stroke-dasharray="5 1.1 1.3 1.1" fill="none"/>
<text x="455.1" y="918.9000000000001" font-size="11.5">SADE</text>
<path d="M425.5,930.4 H452.7" stroke="#a500e0" stroke-width="1.5999999999999999" stroke-dasharray="5.2 3.8" fill="none"/>
<text x="455.1" y="934.6" font-size="11.5">SHADE</text>
<path d="M500.5,883.3 H527.5" stroke="#e000d5" stroke-width="1.5999999999999999" fill="none"/>
<text x="530.0" y="887.5" font-size="11.5">RDWOA</text>
<path d="M500.5,899.0 H527.5" stroke="#e0008e" stroke-width="1.5999999999999999" stroke-dasharray="1.3 1.0" fill="none"/>
<text x="530.0" y="903.2" font-size="11.5">RDSSA</text>
<path d="M500.5,914.7 H527.5" stroke="#e00047" stroke-width="1.5999999999999999" stroke-dasharray="5 1.1 1.3 1.1" fill="none"/>
<text x="530.0" y="918.9000000000001" font-size="11.5">CCNMHHO</text>
</svg></body></html>
